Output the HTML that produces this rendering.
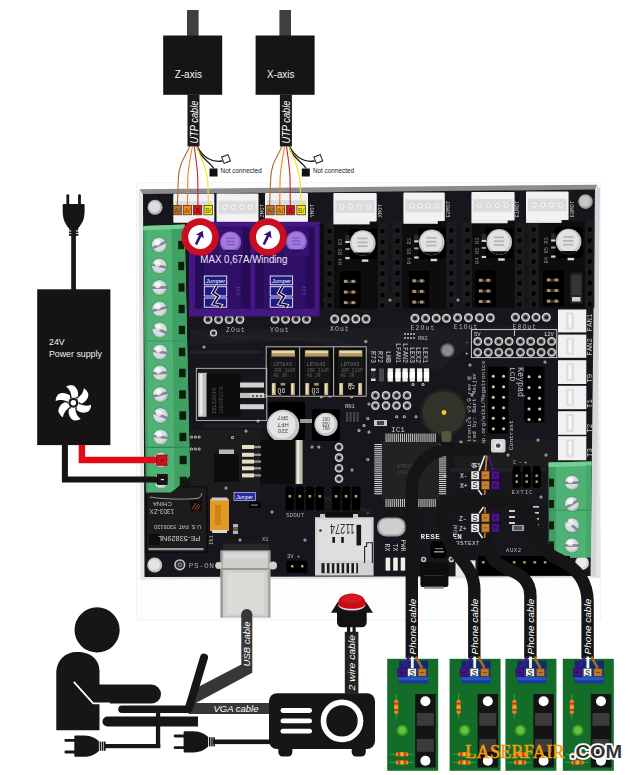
<!DOCTYPE html>
<html><head><meta charset="utf-8"><title>Wiring diagram</title>
<style>
html,body{margin:0;padding:0;background:#fff;}
svg{display:block}
text{font-family:"Liberation Sans",sans-serif}
.m{font-family:"Liberation Mono",monospace}
.sf{font-family:"Liberation Serif",serif}
</style></head><body>
<svg width="637" height="775" viewBox="0 0 637 775">
<defs>
<filter id="soft" x="-2%" y="-2%" width="104%" height="104%"><feGaussianBlur stdDeviation="0.45"/></filter>
<filter id="b1" x="-20%" y="-20%" width="140%" height="140%"><feGaussianBlur stdDeviation="0.6"/></filter>
<filter id="b2" x="-20%" y="-20%" width="140%" height="140%"><feGaussianBlur stdDeviation="1.2"/></filter>
<filter id="b3" x="-30%" y="-30%" width="160%" height="160%"><feGaussianBlur stdDeviation="2.2"/></filter>
</defs>
<g filter="url(#soft)">
<rect x="136.5" y="182.5" width="464.0" height="437.5" fill="#fdfdfd" stroke="#f3f3f3" stroke-width="1"/>
<polygon points="138.5,190 598,185.5 600.5,578 140.5,579.5" fill="#e6e6e8" filter="url(#b1)"/>
<polygon points="139.5,189.2 597,184.7 595,190 143,194.5" fill="#8c8c8f"/>
<polygon points="595,189.5 600,187 596,577 590.5,576" fill="#d4d4da"/>
<polygon points="143,194 595,189.5 590.5,576 144.5,577" fill="#17171a"/>
<polygon points="190,330 560,326 560,345 470,345 440,370 300,340 190,345" fill="#1e1e21"/>
<polygon points="190,430 260,430 260,500 190,500" fill="#1b1b1e"/>
<polygon points="455,440 560,440 560,470 455,470" fill="#1c1c1f"/>
<circle cx="365.8" cy="341.4" r="1.5" fill="#cfcfcf" />
<circle cx="365.8" cy="341.4" r="0.7" fill="#2a2a2a" />
<circle cx="321.4" cy="396.7" r="1.5" fill="#cfcfcf" />
<circle cx="321.4" cy="396.7" r="0.7" fill="#2a2a2a" />
<circle cx="351.5" cy="396.7" r="1.5" fill="#cfcfcf" />
<circle cx="351.5" cy="396.7" r="0.7" fill="#2a2a2a" />
<circle cx="369.0" cy="404.0" r="1.5" fill="#cfcfcf" />
<circle cx="369.0" cy="404.0" r="0.7" fill="#2a2a2a" />
<circle cx="367.8" cy="418.5" r="1.5" fill="#cfcfcf" />
<circle cx="367.8" cy="418.5" r="0.7" fill="#2a2a2a" />
<circle cx="364.0" cy="425.6" r="1.5" fill="#cfcfcf" />
<circle cx="364.0" cy="425.6" r="0.7" fill="#2a2a2a" />
<circle cx="369.0" cy="431.9" r="1.5" fill="#cfcfcf" />
<circle cx="369.0" cy="431.9" r="0.7" fill="#2a2a2a" />
<circle cx="396.7" cy="416.8" r="1.5" fill="#cfcfcf" />
<circle cx="396.7" cy="416.8" r="0.7" fill="#2a2a2a" />
<circle cx="404.3" cy="416.8" r="1.5" fill="#cfcfcf" />
<circle cx="404.3" cy="416.8" r="0.7" fill="#2a2a2a" />
<circle cx="416.0" cy="416.8" r="1.5" fill="#cfcfcf" />
<circle cx="416.0" cy="416.8" r="0.7" fill="#2a2a2a" />
<circle cx="423.0" cy="384.6" r="1.5" fill="#cfcfcf" />
<circle cx="423.0" cy="384.6" r="0.7" fill="#2a2a2a" />
<circle cx="413.0" cy="384.6" r="1.5" fill="#cfcfcf" />
<circle cx="413.0" cy="384.6" r="0.7" fill="#2a2a2a" />
<circle cx="318.8" cy="447.0" r="1.5" fill="#cfcfcf" />
<circle cx="318.8" cy="447.0" r="0.7" fill="#2a2a2a" />
<circle cx="367.8" cy="459.5" r="1.5" fill="#cfcfcf" />
<circle cx="367.8" cy="459.5" r="0.7" fill="#2a2a2a" />
<circle cx="359.0" cy="430.6" r="1.5" fill="#cfcfcf" />
<circle cx="359.0" cy="430.6" r="0.7" fill="#2a2a2a" />
<circle cx="191.5" cy="437.0" r="1.5" fill="#cfcfcf" />
<circle cx="191.5" cy="437.0" r="0.7" fill="#2a2a2a" />
<circle cx="195.3" cy="437.0" r="1.5" fill="#cfcfcf" />
<circle cx="195.3" cy="437.0" r="0.7" fill="#2a2a2a" />
<circle cx="199.1" cy="437.0" r="1.5" fill="#cfcfcf" />
<circle cx="199.1" cy="437.0" r="0.7" fill="#2a2a2a" />
<circle cx="191.5" cy="449.0" r="1.5" fill="#cfcfcf" />
<circle cx="191.5" cy="449.0" r="0.7" fill="#2a2a2a" />
<circle cx="195.3" cy="449.0" r="1.5" fill="#cfcfcf" />
<circle cx="195.3" cy="449.0" r="0.7" fill="#2a2a2a" />
<circle cx="199.1" cy="449.0" r="1.5" fill="#cfcfcf" />
<circle cx="199.1" cy="449.0" r="0.7" fill="#2a2a2a" />
<circle cx="232.5" cy="437.5" r="1.5" fill="#cfcfcf" />
<circle cx="232.5" cy="437.5" r="0.7" fill="#2a2a2a" />
<circle cx="246.0" cy="431.0" r="1.5" fill="#cfcfcf" />
<circle cx="246.0" cy="431.0" r="0.7" fill="#2a2a2a" />
<circle cx="258.0" cy="421.0" r="1.5" fill="#cfcfcf" />
<circle cx="258.0" cy="421.0" r="0.7" fill="#2a2a2a" />
<circle cx="330.0" cy="396.0" r="1.5" fill="#cfcfcf" />
<circle cx="330.0" cy="396.0" r="0.7" fill="#2a2a2a" />
<circle cx="204.0" cy="347.0" r="1.5" fill="#cfcfcf" />
<circle cx="204.0" cy="347.0" r="0.7" fill="#2a2a2a" />
<circle cx="436.0" cy="460.0" r="1.5" fill="#cfcfcf" />
<circle cx="436.0" cy="460.0" r="0.7" fill="#2a2a2a" />
<circle cx="445.0" cy="476.0" r="1.5" fill="#cfcfcf" />
<circle cx="445.0" cy="476.0" r="0.7" fill="#2a2a2a" />
<circle cx="452.0" cy="500.0" r="1.5" fill="#cfcfcf" />
<circle cx="452.0" cy="500.0" r="0.7" fill="#2a2a2a" />
<circle cx="461.0" cy="442.0" r="1.5" fill="#cfcfcf" />
<circle cx="461.0" cy="442.0" r="0.7" fill="#2a2a2a" />
<circle cx="505.0" cy="503.0" r="1.5" fill="#cfcfcf" />
<circle cx="505.0" cy="503.0" r="0.7" fill="#2a2a2a" />
<circle cx="541.0" cy="497.0" r="1.5" fill="#cfcfcf" />
<circle cx="541.0" cy="497.0" r="0.7" fill="#2a2a2a" />
<circle cx="563.0" cy="470.0" r="1.5" fill="#cfcfcf" />
<circle cx="563.0" cy="470.0" r="0.7" fill="#2a2a2a" />
<circle cx="545.0" cy="362.0" r="1.5" fill="#cfcfcf" />
<circle cx="545.0" cy="362.0" r="0.7" fill="#2a2a2a" />
<circle cx="300.0" cy="430.0" r="1.5" fill="#cfcfcf" />
<circle cx="300.0" cy="430.0" r="0.7" fill="#2a2a2a" />
<circle cx="312.0" cy="447.0" r="1.5" fill="#cfcfcf" />
<circle cx="312.0" cy="447.0" r="0.7" fill="#2a2a2a" />
<circle cx="352.0" cy="470.0" r="1.5" fill="#cfcfcf" />
<circle cx="352.0" cy="470.0" r="0.7" fill="#2a2a2a" />
<circle cx="368.0" cy="512.0" r="1.5" fill="#cfcfcf" />
<circle cx="368.0" cy="512.0" r="0.7" fill="#2a2a2a" />
<circle cx="305.0" cy="540.0" r="1.5" fill="#cfcfcf" />
<circle cx="305.0" cy="540.0" r="0.7" fill="#2a2a2a" />
<circle cx="272.0" cy="512.0" r="1.5" fill="#cfcfcf" />
<circle cx="272.0" cy="512.0" r="0.7" fill="#2a2a2a" />
<circle cx="240.0" cy="540.0" r="1.5" fill="#cfcfcf" />
<circle cx="240.0" cy="540.0" r="0.7" fill="#2a2a2a" />
<circle cx="262.0" cy="470.0" r="1.5" fill="#cfcfcf" />
<circle cx="262.0" cy="470.0" r="0.7" fill="#2a2a2a" />
<circle cx="226.0" cy="488.0" r="1.5" fill="#cfcfcf" />
<circle cx="226.0" cy="488.0" r="0.7" fill="#2a2a2a" />
<circle cx="560.0" cy="300.0" r="1.5" fill="#cfcfcf" />
<circle cx="560.0" cy="300.0" r="0.7" fill="#2a2a2a" />
<circle cx="458.0" cy="300.0" r="1.5" fill="#cfcfcf" />
<circle cx="458.0" cy="300.0" r="0.7" fill="#2a2a2a" />
<circle cx="390.0" cy="300.0" r="1.5" fill="#cfcfcf" />
<circle cx="390.0" cy="300.0" r="0.7" fill="#2a2a2a" />
<circle cx="322.0" cy="300.0" r="1.5" fill="#cfcfcf" />
<circle cx="322.0" cy="300.0" r="0.7" fill="#2a2a2a" />
<circle cx="546.0" cy="455.0" r="1.5" fill="#cfcfcf" />
<circle cx="546.0" cy="455.0" r="0.7" fill="#2a2a2a" />
<circle cx="508.0" cy="455.0" r="1.5" fill="#cfcfcf" />
<circle cx="508.0" cy="455.0" r="0.7" fill="#2a2a2a" />
<circle cx="538.0" cy="440.0" r="1.5" fill="#cfcfcf" />
<circle cx="538.0" cy="440.0" r="0.7" fill="#2a2a2a" />
<circle cx="470.0" cy="365.0" r="1.5" fill="#cfcfcf" />
<circle cx="470.0" cy="365.0" r="0.7" fill="#2a2a2a" />
<circle cx="472.0" cy="395.0" r="1.5" fill="#cfcfcf" />
<circle cx="472.0" cy="395.0" r="0.7" fill="#2a2a2a" />
<circle cx="466.0" cy="420.0" r="1.5" fill="#cfcfcf" />
<circle cx="466.0" cy="420.0" r="0.7" fill="#2a2a2a" />
<path d="M205 336 L330 340 L372 352 M190 352 L262 352 M205 426 L262 426 M300 490 L370 512 M450 470 L545 470 M455 505 L470 505" stroke="#242428" stroke-width="3.2" fill="none"/>
<circle cx="155.0" cy="207.3" r="7.5" fill="#b5b5b5" />
<circle cx="154.5" cy="206.8" r="5.6" fill="#dcdcdc" />
<circle cx="585.5" cy="201.6" r="7.3" fill="#a2a2a2" />
<circle cx="585.0" cy="201.1" r="5.4" fill="#c6c6c6" />
<circle cx="154.7" cy="565.0" r="7.5" fill="#c6c6c6" />
<circle cx="154.2" cy="564.5" r="5.6" fill="#e4e4e4" />
<circle cx="582.0" cy="563.0" r="7.0" fill="#d8d8d8" />
<circle cx="581.5" cy="562.5" r="5.0" fill="#ececec" />
<circle cx="447.5" cy="350.3" r="7.0" fill="#5c5c5c" />
<circle cx="447.5" cy="350.3" r="5.4" fill="#8c8c8c" />
<rect x="173.3" y="193.8" width="41.0" height="29.0" fill="#f2f2f2" rx="1"/>
<rect x="175.3" y="201.1" width="37.0" height="13.1" fill="#dcdcdc" />
<circle cx="181.4" cy="207.4" r="2.6" fill="#efefef" />
<circle cx="181.4" cy="207.4" r="1.2" fill="#cfcfcf" />
<circle cx="189.7" cy="207.4" r="2.6" fill="#efefef" />
<circle cx="189.7" cy="207.4" r="1.2" fill="#cfcfcf" />
<circle cx="197.9" cy="207.4" r="2.6" fill="#efefef" />
<circle cx="197.9" cy="207.4" r="1.2" fill="#cfcfcf" />
<circle cx="206.2" cy="207.4" r="2.6" fill="#efefef" />
<circle cx="206.2" cy="207.4" r="1.2" fill="#cfcfcf" />
<rect x="216.5" y="193.5" width="42.0" height="29.0" fill="#f2f2f2" rx="1"/>
<rect x="218.5" y="200.8" width="38.0" height="13.1" fill="#dcdcdc" />
<circle cx="224.8" cy="207.1" r="2.6" fill="#efefef" />
<circle cx="224.8" cy="207.1" r="1.2" fill="#cfcfcf" />
<circle cx="233.2" cy="207.1" r="2.6" fill="#efefef" />
<circle cx="233.2" cy="207.1" r="1.2" fill="#cfcfcf" />
<circle cx="241.8" cy="207.1" r="2.6" fill="#efefef" />
<circle cx="241.8" cy="207.1" r="1.2" fill="#cfcfcf" />
<circle cx="250.2" cy="207.1" r="2.6" fill="#efefef" />
<circle cx="250.2" cy="207.1" r="1.2" fill="#cfcfcf" />
<rect x="265.0" y="193.0" width="43.0" height="29.0" fill="#f2f2f2" rx="1"/>
<rect x="267.0" y="200.2" width="39.0" height="13.1" fill="#dcdcdc" />
<circle cx="273.4" cy="206.6" r="2.6" fill="#efefef" />
<circle cx="273.4" cy="206.6" r="1.2" fill="#cfcfcf" />
<circle cx="282.1" cy="206.6" r="2.6" fill="#efefef" />
<circle cx="282.1" cy="206.6" r="1.2" fill="#cfcfcf" />
<circle cx="290.9" cy="206.6" r="2.6" fill="#efefef" />
<circle cx="290.9" cy="206.6" r="1.2" fill="#cfcfcf" />
<circle cx="299.6" cy="206.6" r="2.6" fill="#efefef" />
<circle cx="299.6" cy="206.6" r="1.2" fill="#cfcfcf" />
<text transform="translate(264.4 217.5) rotate(-90)" font-size="5.6" fill="#c8c8c8" class="m">ZMOT</text>
<text transform="translate(313.8 217.5) rotate(-90)" font-size="5.6" fill="#c8c8c8" class="m">YMOT</text>
<text transform="translate(381.6 217.5) rotate(-90)" font-size="5.6" fill="#c8c8c8" class="m">XMOT</text>
<text transform="translate(449.6 217.5) rotate(-90)" font-size="5.6" fill="#c8c8c8" class="m">E2MOT</text>
<text transform="translate(519.4 217.5) rotate(-90)" font-size="5.6" fill="#c8c8c8" class="m">E1MOT</text>
<text transform="translate(573.6 217.5) rotate(-90)" font-size="5.6" fill="#c8c8c8" class="m">E0MOT</text>
<rect x="189.5" y="224.0" width="9.0" height="84.0" fill="#070707" />
<rect x="247.5" y="224.0" width="9.0" height="84.0" fill="#070707" />
<rect x="257.0" y="224.0" width="9.0" height="84.0" fill="#070707" />
<rect x="314.5" y="224.0" width="9.0" height="84.0" fill="#070707" />
<rect x="333.7" y="223.0" width="44.2" height="86.0" fill="#0c0c0e" />
<rect x="324.7" y="222.5" width="9.4" height="86.5" fill="#1c1c1f" />
<rect x="327.3" y="229.0" width="4.2" height="4.2" fill="#050506" rx="0.8"/>
<rect x="327.3" y="239.7" width="4.2" height="4.2" fill="#050506" rx="0.8"/>
<rect x="327.3" y="250.3" width="4.2" height="4.2" fill="#050506" rx="0.8"/>
<rect x="327.3" y="260.9" width="4.2" height="4.2" fill="#050506" rx="0.8"/>
<rect x="327.3" y="271.6" width="4.2" height="4.2" fill="#050506" rx="0.8"/>
<rect x="327.3" y="282.2" width="4.2" height="4.2" fill="#050506" rx="0.8"/>
<rect x="327.3" y="292.9" width="4.2" height="4.2" fill="#050506" rx="0.8"/>
<rect x="327.3" y="303.6" width="4.2" height="4.2" fill="#050506" rx="0.8"/>
<rect x="377.9" y="222.5" width="9.4" height="86.5" fill="#1c1c1f" />
<rect x="380.5" y="229.0" width="4.2" height="4.2" fill="#050506" rx="0.8"/>
<rect x="380.5" y="239.7" width="4.2" height="4.2" fill="#050506" rx="0.8"/>
<rect x="380.5" y="250.3" width="4.2" height="4.2" fill="#050506" rx="0.8"/>
<rect x="380.5" y="260.9" width="4.2" height="4.2" fill="#050506" rx="0.8"/>
<rect x="380.5" y="271.6" width="4.2" height="4.2" fill="#050506" rx="0.8"/>
<rect x="380.5" y="282.2" width="4.2" height="4.2" fill="#050506" rx="0.8"/>
<rect x="380.5" y="292.9" width="4.2" height="4.2" fill="#050506" rx="0.8"/>
<rect x="380.5" y="303.6" width="4.2" height="4.2" fill="#050506" rx="0.8"/>
<rect x="333.4" y="193.0" width="43.3" height="28.5" fill="#f2f2f2" rx="1"/>
<rect x="335.4" y="200.1" width="39.3" height="12.8" fill="#dcdcdc" />
<circle cx="341.8" cy="206.4" r="2.6" fill="#efefef" />
<circle cx="341.8" cy="206.4" r="1.2" fill="#cfcfcf" />
<circle cx="350.6" cy="206.4" r="2.6" fill="#efefef" />
<circle cx="350.6" cy="206.4" r="1.2" fill="#cfcfcf" />
<circle cx="359.5" cy="206.4" r="2.6" fill="#efefef" />
<circle cx="359.5" cy="206.4" r="1.2" fill="#cfcfcf" />
<circle cx="368.3" cy="206.4" r="2.6" fill="#efefef" />
<circle cx="368.3" cy="206.4" r="1.2" fill="#cfcfcf" />
<rect x="333.4" y="221.0" width="36.3" height="3.4" fill="#ececec" />
<rect x="348.5" y="228.7" width="28.6" height="30.6" fill="#050505" rx="3"/>
<circle cx="362.8" cy="243.0" r="12.8" fill="#c4c4c4" />
<circle cx="362.4" cy="242.4" r="10.8" fill="#e2e2e2" />
<rect x="357.4" y="237.6" width="10.2" height="1.7" fill="#b4b4b8" />
<rect x="357.4" y="241.5" width="10.2" height="1.7" fill="#b4b4b8" />
<rect x="357.4" y="245.3" width="10.2" height="1.7" fill="#b4b4b8" />
<path d="M354.19 252.47 A12.80 12.80 0 0 0 371.41 252.47 Z" fill="#0a0a0a"/>
<rect x="340.0" y="271.0" width="21.0" height="37.0" fill="#050505" rx="3"/>
<rect x="343.5" y="280.5" width="13.0" height="2.4" fill="#3a3028" />
<rect x="344.0" y="279.9" width="3.4" height="3.0" fill="#b09070" />
<rect x="351.5" y="279.9" width="3.4" height="3.0" fill="#b09070" />
<rect x="343.5" y="291.1" width="13.0" height="2.4" fill="#3a3028" />
<rect x="344.0" y="290.5" width="3.4" height="3.0" fill="#b09070" />
<rect x="351.5" y="290.5" width="3.4" height="3.0" fill="#b09070" />
<rect x="343.5" y="301.7" width="13.0" height="2.4" fill="#3a3028" />
<rect x="344.0" y="301.1" width="3.4" height="3.0" fill="#b09070" />
<rect x="351.5" y="301.1" width="3.4" height="3.0" fill="#b09070" />
<rect x="345.3" y="235.0" width="4.4" height="7.0" fill="#2c2c2c" />
<rect x="345.3" y="241.0" width="4.4" height="2.0" fill="#d8d8d8" />
<rect x="345.3" y="248.0" width="4.4" height="2.0" fill="#9a9a9a" />
<rect x="345.3" y="257.0" width="4.4" height="2.2" fill="#cfcfcf" />
<rect x="361.8" y="259.4" width="6.5" height="2.4" fill="#d8d8d8" />
<text transform="translate(342.3 265.0) rotate(-90)" font-size="5.5" fill="#8a8a8a" class="m">R4 R5 R3</text>
<rect x="401.9" y="222.4" width="44.7" height="86.0" fill="#0c0c0e" />
<rect x="392.9" y="221.9" width="9.4" height="86.5" fill="#1c1c1f" />
<rect x="395.5" y="228.4" width="4.2" height="4.2" fill="#050506" rx="0.8"/>
<rect x="395.5" y="239.1" width="4.2" height="4.2" fill="#050506" rx="0.8"/>
<rect x="395.5" y="249.7" width="4.2" height="4.2" fill="#050506" rx="0.8"/>
<rect x="395.5" y="260.4" width="4.2" height="4.2" fill="#050506" rx="0.8"/>
<rect x="395.5" y="271.0" width="4.2" height="4.2" fill="#050506" rx="0.8"/>
<rect x="395.5" y="281.6" width="4.2" height="4.2" fill="#050506" rx="0.8"/>
<rect x="395.5" y="292.3" width="4.2" height="4.2" fill="#050506" rx="0.8"/>
<rect x="395.5" y="302.9" width="4.2" height="4.2" fill="#050506" rx="0.8"/>
<rect x="446.6" y="221.9" width="9.4" height="86.5" fill="#1c1c1f" />
<rect x="449.2" y="228.4" width="4.2" height="4.2" fill="#050506" rx="0.8"/>
<rect x="449.2" y="239.1" width="4.2" height="4.2" fill="#050506" rx="0.8"/>
<rect x="449.2" y="249.7" width="4.2" height="4.2" fill="#050506" rx="0.8"/>
<rect x="449.2" y="260.4" width="4.2" height="4.2" fill="#050506" rx="0.8"/>
<rect x="449.2" y="271.0" width="4.2" height="4.2" fill="#050506" rx="0.8"/>
<rect x="449.2" y="281.6" width="4.2" height="4.2" fill="#050506" rx="0.8"/>
<rect x="449.2" y="292.3" width="4.2" height="4.2" fill="#050506" rx="0.8"/>
<rect x="449.2" y="302.9" width="4.2" height="4.2" fill="#050506" rx="0.8"/>
<rect x="403.4" y="192.4" width="41.4" height="28.5" fill="#f2f2f2" rx="1"/>
<rect x="405.4" y="199.5" width="37.4" height="12.8" fill="#dcdcdc" />
<circle cx="411.6" cy="205.8" r="2.6" fill="#efefef" />
<circle cx="411.6" cy="205.8" r="1.2" fill="#cfcfcf" />
<circle cx="419.9" cy="205.8" r="2.6" fill="#efefef" />
<circle cx="419.9" cy="205.8" r="1.2" fill="#cfcfcf" />
<circle cx="428.3" cy="205.8" r="2.6" fill="#efefef" />
<circle cx="428.3" cy="205.8" r="1.2" fill="#cfcfcf" />
<circle cx="436.6" cy="205.8" r="2.6" fill="#efefef" />
<circle cx="436.6" cy="205.8" r="1.2" fill="#cfcfcf" />
<rect x="403.4" y="220.4" width="34.4" height="3.4" fill="#ececec" />
<rect x="417.4" y="228.1" width="28.6" height="30.6" fill="#050505" rx="3"/>
<circle cx="431.7" cy="242.4" r="12.8" fill="#c4c4c4" />
<circle cx="431.3" cy="241.8" r="10.8" fill="#e2e2e2" />
<rect x="426.3" y="237.0" width="10.2" height="1.7" fill="#b4b4b8" />
<rect x="426.3" y="240.9" width="10.2" height="1.7" fill="#b4b4b8" />
<rect x="426.3" y="244.7" width="10.2" height="1.7" fill="#b4b4b8" />
<path d="M423.09 251.87 A12.80 12.80 0 0 0 440.31 251.87 Z" fill="#0a0a0a"/>
<rect x="408.5" y="270.4" width="21.0" height="37.0" fill="#050505" rx="3"/>
<rect x="412.0" y="279.9" width="13.0" height="2.4" fill="#3a3028" />
<rect x="412.5" y="279.3" width="3.4" height="3.0" fill="#b09070" />
<rect x="420.0" y="279.3" width="3.4" height="3.0" fill="#b09070" />
<rect x="412.0" y="290.5" width="13.0" height="2.4" fill="#3a3028" />
<rect x="412.5" y="289.9" width="3.4" height="3.0" fill="#b09070" />
<rect x="420.0" y="289.9" width="3.4" height="3.0" fill="#b09070" />
<rect x="412.0" y="301.1" width="13.0" height="2.4" fill="#3a3028" />
<rect x="412.5" y="300.5" width="3.4" height="3.0" fill="#b09070" />
<rect x="420.0" y="300.5" width="3.4" height="3.0" fill="#b09070" />
<rect x="414.2" y="234.4" width="4.4" height="7.0" fill="#2c2c2c" />
<rect x="414.2" y="240.4" width="4.4" height="2.0" fill="#d8d8d8" />
<rect x="414.2" y="247.4" width="4.4" height="2.0" fill="#9a9a9a" />
<rect x="414.2" y="256.4" width="4.4" height="2.2" fill="#cfcfcf" />
<rect x="430.7" y="258.8" width="6.5" height="2.4" fill="#d8d8d8" />
<text transform="translate(411.2 264.4) rotate(-90)" font-size="5.5" fill="#8a8a8a" class="m">R4 R5 R3</text>
<rect x="471.8" y="221.9" width="43.0" height="86.0" fill="#0c0c0e" />
<rect x="462.8" y="221.4" width="9.4" height="86.5" fill="#1c1c1f" />
<rect x="465.4" y="227.9" width="4.2" height="4.2" fill="#050506" rx="0.8"/>
<rect x="465.4" y="238.6" width="4.2" height="4.2" fill="#050506" rx="0.8"/>
<rect x="465.4" y="249.2" width="4.2" height="4.2" fill="#050506" rx="0.8"/>
<rect x="465.4" y="259.9" width="4.2" height="4.2" fill="#050506" rx="0.8"/>
<rect x="465.4" y="270.5" width="4.2" height="4.2" fill="#050506" rx="0.8"/>
<rect x="465.4" y="281.1" width="4.2" height="4.2" fill="#050506" rx="0.8"/>
<rect x="465.4" y="291.8" width="4.2" height="4.2" fill="#050506" rx="0.8"/>
<rect x="465.4" y="302.4" width="4.2" height="4.2" fill="#050506" rx="0.8"/>
<rect x="514.8" y="221.4" width="9.4" height="86.5" fill="#1c1c1f" />
<rect x="517.4" y="227.9" width="4.2" height="4.2" fill="#050506" rx="0.8"/>
<rect x="517.4" y="238.6" width="4.2" height="4.2" fill="#050506" rx="0.8"/>
<rect x="517.4" y="249.2" width="4.2" height="4.2" fill="#050506" rx="0.8"/>
<rect x="517.4" y="259.9" width="4.2" height="4.2" fill="#050506" rx="0.8"/>
<rect x="517.4" y="270.5" width="4.2" height="4.2" fill="#050506" rx="0.8"/>
<rect x="517.4" y="281.1" width="4.2" height="4.2" fill="#050506" rx="0.8"/>
<rect x="517.4" y="291.8" width="4.2" height="4.2" fill="#050506" rx="0.8"/>
<rect x="517.4" y="302.4" width="4.2" height="4.2" fill="#050506" rx="0.8"/>
<rect x="471.4" y="191.9" width="43.2" height="28.5" fill="#f2f2f2" rx="1"/>
<rect x="473.4" y="199.0" width="39.2" height="12.8" fill="#dcdcdc" />
<circle cx="479.8" cy="205.3" r="2.6" fill="#efefef" />
<circle cx="479.8" cy="205.3" r="1.2" fill="#cfcfcf" />
<circle cx="488.6" cy="205.3" r="2.6" fill="#efefef" />
<circle cx="488.6" cy="205.3" r="1.2" fill="#cfcfcf" />
<circle cx="497.4" cy="205.3" r="2.6" fill="#efefef" />
<circle cx="497.4" cy="205.3" r="1.2" fill="#cfcfcf" />
<circle cx="506.2" cy="205.3" r="2.6" fill="#efefef" />
<circle cx="506.2" cy="205.3" r="1.2" fill="#cfcfcf" />
<rect x="471.4" y="219.9" width="36.2" height="3.4" fill="#ececec" />
<rect x="484.9" y="227.6" width="28.6" height="30.6" fill="#050505" rx="3"/>
<circle cx="499.2" cy="241.9" r="12.8" fill="#c4c4c4" />
<circle cx="498.8" cy="241.3" r="10.8" fill="#e2e2e2" />
<rect x="493.8" y="236.5" width="10.2" height="1.7" fill="#b4b4b8" />
<rect x="493.8" y="240.4" width="10.2" height="1.7" fill="#b4b4b8" />
<rect x="493.8" y="244.2" width="10.2" height="1.7" fill="#b4b4b8" />
<path d="M490.59 251.37 A12.80 12.80 0 0 0 507.81 251.37 Z" fill="#0a0a0a"/>
<rect x="475.0" y="269.9" width="21.0" height="37.0" fill="#050505" rx="3"/>
<rect x="478.5" y="279.4" width="13.0" height="2.4" fill="#3a3028" />
<rect x="479.0" y="278.8" width="3.4" height="3.0" fill="#b09070" />
<rect x="486.5" y="278.8" width="3.4" height="3.0" fill="#b09070" />
<rect x="478.5" y="290.0" width="13.0" height="2.4" fill="#3a3028" />
<rect x="479.0" y="289.4" width="3.4" height="3.0" fill="#b09070" />
<rect x="486.5" y="289.4" width="3.4" height="3.0" fill="#b09070" />
<rect x="478.5" y="300.6" width="13.0" height="2.4" fill="#3a3028" />
<rect x="479.0" y="300.0" width="3.4" height="3.0" fill="#b09070" />
<rect x="486.5" y="300.0" width="3.4" height="3.0" fill="#b09070" />
<rect x="481.7" y="233.9" width="4.4" height="7.0" fill="#2c2c2c" />
<rect x="481.7" y="239.9" width="4.4" height="2.0" fill="#d8d8d8" />
<rect x="481.7" y="246.9" width="4.4" height="2.0" fill="#9a9a9a" />
<rect x="481.7" y="255.9" width="4.4" height="2.2" fill="#cfcfcf" />
<rect x="498.2" y="258.3" width="6.5" height="2.4" fill="#d8d8d8" />
<text transform="translate(478.7 263.9) rotate(-90)" font-size="5.5" fill="#8a8a8a" class="m">R4 R5 R3</text>
<rect x="538.0" y="221.5" width="47.0" height="86.0" fill="#0c0c0e" />
<rect x="529.0" y="221.0" width="9.4" height="86.5" fill="#1c1c1f" />
<rect x="531.6" y="227.5" width="4.2" height="4.2" fill="#050506" rx="0.8"/>
<rect x="531.6" y="238.2" width="4.2" height="4.2" fill="#050506" rx="0.8"/>
<rect x="531.6" y="248.8" width="4.2" height="4.2" fill="#050506" rx="0.8"/>
<rect x="531.6" y="259.4" width="4.2" height="4.2" fill="#050506" rx="0.8"/>
<rect x="531.6" y="270.1" width="4.2" height="4.2" fill="#050506" rx="0.8"/>
<rect x="531.6" y="280.8" width="4.2" height="4.2" fill="#050506" rx="0.8"/>
<rect x="531.6" y="291.4" width="4.2" height="4.2" fill="#050506" rx="0.8"/>
<rect x="531.6" y="302.1" width="4.2" height="4.2" fill="#050506" rx="0.8"/>
<rect x="585.0" y="221.0" width="9.4" height="86.5" fill="#1c1c1f" />
<rect x="587.6" y="227.5" width="4.2" height="4.2" fill="#050506" rx="0.8"/>
<rect x="587.6" y="238.2" width="4.2" height="4.2" fill="#050506" rx="0.8"/>
<rect x="587.6" y="248.8" width="4.2" height="4.2" fill="#050506" rx="0.8"/>
<rect x="587.6" y="259.4" width="4.2" height="4.2" fill="#050506" rx="0.8"/>
<rect x="587.6" y="270.1" width="4.2" height="4.2" fill="#050506" rx="0.8"/>
<rect x="587.6" y="280.8" width="4.2" height="4.2" fill="#050506" rx="0.8"/>
<rect x="587.6" y="291.4" width="4.2" height="4.2" fill="#050506" rx="0.8"/>
<rect x="587.6" y="302.1" width="4.2" height="4.2" fill="#050506" rx="0.8"/>
<rect x="526.0" y="191.5" width="42.6" height="28.5" fill="#f2f2f2" rx="1"/>
<rect x="528.0" y="198.6" width="38.6" height="12.8" fill="#dcdcdc" />
<circle cx="534.3" cy="204.9" r="2.6" fill="#efefef" />
<circle cx="534.3" cy="204.9" r="1.2" fill="#cfcfcf" />
<circle cx="543.0" cy="204.9" r="2.6" fill="#efefef" />
<circle cx="543.0" cy="204.9" r="1.2" fill="#cfcfcf" />
<circle cx="551.6" cy="204.9" r="2.6" fill="#efefef" />
<circle cx="551.6" cy="204.9" r="1.2" fill="#cfcfcf" />
<circle cx="560.3" cy="204.9" r="2.6" fill="#efefef" />
<circle cx="560.3" cy="204.9" r="1.2" fill="#cfcfcf" />
<rect x="526.0" y="219.5" width="35.6" height="3.4" fill="#ececec" />
<rect x="554.3" y="227.2" width="28.6" height="30.6" fill="#050505" rx="3"/>
<circle cx="568.6" cy="241.5" r="12.8" fill="#c4c4c4" />
<circle cx="568.2" cy="240.9" r="10.8" fill="#e2e2e2" />
<rect x="563.2" y="236.1" width="10.2" height="1.7" fill="#b4b4b8" />
<rect x="563.2" y="240.0" width="10.2" height="1.7" fill="#b4b4b8" />
<rect x="563.2" y="243.8" width="10.2" height="1.7" fill="#b4b4b8" />
<path d="M559.99 250.97 A12.80 12.80 0 0 0 577.21 250.97 Z" fill="#0a0a0a"/>
<rect x="543.0" y="269.5" width="21.0" height="37.0" fill="#050505" rx="3"/>
<rect x="546.5" y="279.0" width="13.0" height="2.4" fill="#3a3028" />
<rect x="547.0" y="278.4" width="3.4" height="3.0" fill="#b09070" />
<rect x="554.5" y="278.4" width="3.4" height="3.0" fill="#b09070" />
<rect x="546.5" y="289.6" width="13.0" height="2.4" fill="#3a3028" />
<rect x="547.0" y="289.0" width="3.4" height="3.0" fill="#b09070" />
<rect x="554.5" y="289.0" width="3.4" height="3.0" fill="#b09070" />
<rect x="546.5" y="300.2" width="13.0" height="2.4" fill="#3a3028" />
<rect x="547.0" y="299.6" width="3.4" height="3.0" fill="#b09070" />
<rect x="554.5" y="299.6" width="3.4" height="3.0" fill="#b09070" />
<rect x="551.1" y="233.5" width="4.4" height="7.0" fill="#2c2c2c" />
<rect x="551.1" y="239.5" width="4.4" height="2.0" fill="#d8d8d8" />
<rect x="551.1" y="246.5" width="4.4" height="2.0" fill="#9a9a9a" />
<rect x="551.1" y="255.5" width="4.4" height="2.2" fill="#cfcfcf" />
<rect x="567.6" y="257.9" width="6.5" height="2.4" fill="#d8d8d8" />
<text transform="translate(548.1 263.5) rotate(-90)" font-size="5.5" fill="#8a8a8a" class="m">R4 R5 R3</text>
<rect x="570.0" y="272.6" width="12.5" height="31.0" fill="#202022" rx="1.5"/>
<rect x="571.5" y="275.0" width="9.5" height="20.0" fill="#343436" />
<rect x="572.0" y="297.0" width="8.5" height="4.5" fill="#cfcfcf" />
<circle cx="208.0" cy="319.5" r="4.5" fill="#d9d9d9" />
<circle cx="208.0" cy="319.5" r="3.2" fill="#8a8a8a" />
<circle cx="208.0" cy="319.5" r="2.0" fill="#1a1a1a" />
<circle cx="218.6" cy="319.5" r="4.5" fill="#d9d9d9" />
<circle cx="218.6" cy="319.5" r="3.2" fill="#8a8a8a" />
<circle cx="218.6" cy="319.5" r="2.0" fill="#1a1a1a" />
<circle cx="229.2" cy="319.5" r="4.5" fill="#d9d9d9" />
<circle cx="229.2" cy="319.5" r="3.2" fill="#8a8a8a" />
<circle cx="229.2" cy="319.5" r="2.0" fill="#1a1a1a" />
<circle cx="239.8" cy="319.5" r="4.5" fill="#d9d9d9" />
<circle cx="239.8" cy="319.5" r="3.2" fill="#8a8a8a" />
<circle cx="239.8" cy="319.5" r="2.0" fill="#1a1a1a" />
<circle cx="275.0" cy="319.3" r="4.5" fill="#d9d9d9" />
<circle cx="275.0" cy="319.3" r="3.2" fill="#8a8a8a" />
<circle cx="275.0" cy="319.3" r="2.0" fill="#1a1a1a" />
<circle cx="285.5" cy="319.3" r="4.5" fill="#d9d9d9" />
<circle cx="285.5" cy="319.3" r="3.2" fill="#8a8a8a" />
<circle cx="285.5" cy="319.3" r="2.0" fill="#1a1a1a" />
<circle cx="296.0" cy="319.3" r="4.5" fill="#d9d9d9" />
<circle cx="296.0" cy="319.3" r="3.2" fill="#8a8a8a" />
<circle cx="296.0" cy="319.3" r="2.0" fill="#1a1a1a" />
<circle cx="306.5" cy="319.3" r="4.5" fill="#d9d9d9" />
<circle cx="306.5" cy="319.3" r="3.2" fill="#8a8a8a" />
<circle cx="306.5" cy="319.3" r="2.0" fill="#1a1a1a" />
<circle cx="334.7" cy="319.0" r="4.5" fill="#d9d9d9" />
<circle cx="334.7" cy="319.0" r="3.2" fill="#8a8a8a" />
<circle cx="334.7" cy="319.0" r="2.0" fill="#1a1a1a" />
<circle cx="345.2" cy="319.0" r="4.5" fill="#d9d9d9" />
<circle cx="345.2" cy="319.0" r="3.2" fill="#8a8a8a" />
<circle cx="345.2" cy="319.0" r="2.0" fill="#1a1a1a" />
<circle cx="355.8" cy="319.0" r="4.5" fill="#d9d9d9" />
<circle cx="355.8" cy="319.0" r="3.2" fill="#8a8a8a" />
<circle cx="355.8" cy="319.0" r="2.0" fill="#1a1a1a" />
<circle cx="366.0" cy="319.0" r="4.5" fill="#d9d9d9" />
<circle cx="366.0" cy="319.0" r="3.2" fill="#8a8a8a" />
<circle cx="366.0" cy="319.0" r="2.0" fill="#1a1a1a" />
<circle cx="415.0" cy="318.3" r="4.5" fill="#d9d9d9" />
<circle cx="415.0" cy="318.3" r="3.2" fill="#8a8a8a" />
<circle cx="415.0" cy="318.3" r="2.0" fill="#1a1a1a" />
<circle cx="425.6" cy="318.3" r="4.5" fill="#d9d9d9" />
<circle cx="425.6" cy="318.3" r="3.2" fill="#8a8a8a" />
<circle cx="425.6" cy="318.3" r="2.0" fill="#1a1a1a" />
<circle cx="436.2" cy="318.3" r="4.5" fill="#d9d9d9" />
<circle cx="436.2" cy="318.3" r="3.2" fill="#8a8a8a" />
<circle cx="436.2" cy="318.3" r="2.0" fill="#1a1a1a" />
<circle cx="446.4" cy="318.3" r="4.5" fill="#d9d9d9" />
<circle cx="446.4" cy="318.3" r="3.2" fill="#8a8a8a" />
<circle cx="446.4" cy="318.3" r="2.0" fill="#1a1a1a" />
<circle cx="457.6" cy="317.7" r="4.5" fill="#d9d9d9" />
<circle cx="457.6" cy="317.7" r="3.2" fill="#8a8a8a" />
<circle cx="457.6" cy="317.7" r="2.0" fill="#1a1a1a" />
<circle cx="468.5" cy="317.7" r="4.5" fill="#d9d9d9" />
<circle cx="468.5" cy="317.7" r="3.2" fill="#8a8a8a" />
<circle cx="468.5" cy="317.7" r="2.0" fill="#1a1a1a" />
<circle cx="479.4" cy="317.7" r="4.5" fill="#d9d9d9" />
<circle cx="479.4" cy="317.7" r="3.2" fill="#8a8a8a" />
<circle cx="479.4" cy="317.7" r="2.0" fill="#1a1a1a" />
<circle cx="490.3" cy="317.7" r="4.5" fill="#d9d9d9" />
<circle cx="490.3" cy="317.7" r="3.2" fill="#8a8a8a" />
<circle cx="490.3" cy="317.7" r="2.0" fill="#1a1a1a" />
<circle cx="515.4" cy="317.3" r="4.5" fill="#d9d9d9" />
<circle cx="515.4" cy="317.3" r="3.2" fill="#8a8a8a" />
<circle cx="515.4" cy="317.3" r="2.0" fill="#1a1a1a" />
<circle cx="525.6" cy="317.3" r="4.5" fill="#d9d9d9" />
<circle cx="525.6" cy="317.3" r="3.2" fill="#8a8a8a" />
<circle cx="525.6" cy="317.3" r="2.0" fill="#1a1a1a" />
<circle cx="536.0" cy="317.3" r="4.5" fill="#d9d9d9" />
<circle cx="536.0" cy="317.3" r="3.2" fill="#8a8a8a" />
<circle cx="536.0" cy="317.3" r="2.0" fill="#1a1a1a" />
<circle cx="546.3" cy="317.3" r="4.5" fill="#d9d9d9" />
<circle cx="546.3" cy="317.3" r="3.2" fill="#8a8a8a" />
<circle cx="546.3" cy="317.3" r="2.0" fill="#1a1a1a" />
<circle cx="213.5" cy="333.0" r="3.6" fill="#d9d9d9" />
<circle cx="213.5" cy="333.0" r="2.6" fill="#8a8a8a" />
<circle cx="213.5" cy="333.0" r="1.6" fill="#1a1a1a" />
<text x="226" y="331.5" font-size="6.5" fill="#b4b4b4" class="m" letter-spacing="1.05">ZOut</text>
<text x="270" y="331.5" font-size="6.5" fill="#b4b4b4" class="m" letter-spacing="1.05">YOut</text>
<text x="330" y="331" font-size="6.5" fill="#b4b4b4" class="m" letter-spacing="1.05">XOut</text>
<text x="410.6" y="329.8" font-size="6.5" fill="#b4b4b4" class="m" letter-spacing="1.05">E2Out</text>
<text x="453.8" y="329.4" font-size="6.5" fill="#b4b4b4" class="m" letter-spacing="1.05">E1Out</text>
<text x="512.5" y="329" font-size="6.5" fill="#b4b4b4" class="m" letter-spacing="1.05">E0Out</text>
<rect x="266.2" y="346.8" width="100" height="49.4" fill="#0e0e10" stroke="#c9c9c9" stroke-width="0.9"/>
<rect x="270.5" y="355.5" width="25.6" height="27.8" fill="#161618" />
<rect x="271.4" y="350.2" width="23.6" height="6.4" fill="#b39a62" />
<rect x="272.2" y="350.8" width="22.0" height="2.4" fill="#e4d8ae" />
<rect x="271.8" y="383.0" width="3.9" height="12.0" fill="#c9b98a" />
<rect x="290.8" y="383.0" width="3.9" height="12.0" fill="#c9b98a" />
<rect x="272.6" y="384.0" width="1.4" height="9.0" fill="#efe6c8" />
<rect x="291.6" y="384.0" width="1.4" height="9.0" fill="#efe6c8" />
<rect x="280.7" y="383.0" width="4.5" height="2.6" fill="#a89868" />
<text x="273.2" y="366" font-size="5.2" fill="#6e6e6e" class="m">LR7843</text>
<text x="273.2" y="371.5" font-size="4.6" fill="#5e5e5e" class="m">JRR 328P</text>
<text x="273.2" y="377" font-size="4.6" fill="#5e5e5e" class="m">AE   JR</text>
<rect x="299.2" y="347.0" width="0.9" height="49.0" fill="#c9c9c9" />
<rect x="304.0" y="355.5" width="25.6" height="27.8" fill="#161618" />
<rect x="304.9" y="350.2" width="23.6" height="6.4" fill="#b39a62" />
<rect x="305.7" y="350.8" width="22.0" height="2.4" fill="#e4d8ae" />
<rect x="305.3" y="383.0" width="3.9" height="12.0" fill="#c9b98a" />
<rect x="324.3" y="383.0" width="3.9" height="12.0" fill="#c9b98a" />
<rect x="306.1" y="384.0" width="1.4" height="9.0" fill="#efe6c8" />
<rect x="325.1" y="384.0" width="1.4" height="9.0" fill="#efe6c8" />
<rect x="314.2" y="383.0" width="4.5" height="2.6" fill="#a89868" />
<text x="306.7" y="366" font-size="5.2" fill="#6e6e6e" class="m">LR7843</text>
<text x="306.7" y="371.5" font-size="4.6" fill="#5e5e5e" class="m">JRR 328P</text>
<text x="306.7" y="377" font-size="4.6" fill="#5e5e5e" class="m">AE   JR</text>
<rect x="333.2" y="347.0" width="0.9" height="49.0" fill="#c9c9c9" />
<rect x="337.9" y="355.5" width="25.6" height="27.8" fill="#161618" />
<rect x="338.8" y="350.2" width="23.6" height="6.4" fill="#b39a62" />
<rect x="339.6" y="350.8" width="22.0" height="2.4" fill="#e4d8ae" />
<rect x="339.2" y="383.0" width="3.9" height="12.0" fill="#c9b98a" />
<rect x="358.2" y="383.0" width="3.9" height="12.0" fill="#c9b98a" />
<rect x="340.0" y="384.0" width="1.4" height="9.0" fill="#efe6c8" />
<rect x="359.0" y="384.0" width="1.4" height="9.0" fill="#efe6c8" />
<rect x="348.1" y="383.0" width="4.5" height="2.6" fill="#a89868" />
<text x="340.6" y="366" font-size="5.2" fill="#6e6e6e" class="m">LR7843</text>
<text x="340.6" y="371.5" font-size="4.6" fill="#5e5e5e" class="m">JRR 328P</text>
<text x="340.6" y="377" font-size="4.6" fill="#5e5e5e" class="m">AE   JR</text>
<text x="277.5" y="392.5" font-size="6.5" fill="#ddd" class="m">Q6</text>
<text x="311.5" y="393" font-size="6.5" fill="#ddd" class="m">Q3</text>
<text x="348" y="389" font-size="6" fill="#ddd" class="m">Q2</text>
<rect x="196.3" y="368.3" width="70.5" height="52.2" fill="none" stroke="#cfcfcf" stroke-width="0.8"/>
<rect x="198.0" y="372.8" width="9.0" height="44.0" fill="#bfbfbf" />
<rect x="199.5" y="374.0" width="3.0" height="41.5" fill="#e9e9e9" />
<rect x="206.5" y="374.0" width="34.0" height="43.0" fill="#0c0c0d" />
<text transform="translate(216 414) rotate(-90)" font-size="5.4" fill="#5c5c5c" class="m">IRLS3034</text>
<text transform="translate(223 414) rotate(-90)" font-size="4.6" fill="#505050" class="m">2202VP33TD</text>
<rect x="240.0" y="382.5" width="24.0" height="5.0" fill="#d2d2d2" />
<rect x="240.0" y="392.9" width="24.0" height="5.0" fill="#d2d2d2" />
<rect x="240.0" y="404.2" width="24.0" height="5.0" fill="#d2d2d2" />
<rect x="240.0" y="393.0" width="10.0" height="5.0" fill="#bdbdbd" />
<circle cx="253.0" cy="396.0" r="1.7" fill="#d9d9d9" />
<circle cx="253.0" cy="396.0" r="1.2" fill="#8a8a8a" />
<circle cx="253.0" cy="396.0" r="0.8" fill="#1a1a1a" />
<circle cx="257.0" cy="396.0" r="1.7" fill="#d9d9d9" />
<circle cx="257.0" cy="396.0" r="1.2" fill="#8a8a8a" />
<circle cx="257.0" cy="396.0" r="0.8" fill="#1a1a1a" />
<circle cx="261.0" cy="396.0" r="1.7" fill="#d9d9d9" />
<circle cx="261.0" cy="396.0" r="1.2" fill="#8a8a8a" />
<circle cx="261.0" cy="396.0" r="0.8" fill="#1a1a1a" />
<circle cx="265.0" cy="396.0" r="1.7" fill="#d9d9d9" />
<circle cx="265.0" cy="396.0" r="1.2" fill="#8a8a8a" />
<circle cx="265.0" cy="396.0" r="0.8" fill="#1a1a1a" />
<rect x="268.5" y="401.5" width="36.5" height="39.0" fill="#060606" rx="2"/>
<circle cx="283.0" cy="426.0" r="16.3" fill="#c4c4c4" />
<circle cx="282.0" cy="425.0" r="13.5" fill="#e4e4e4" />
<text transform="translate(283 426) rotate(180)" font-size="6" fill="#444" text-anchor="middle"><tspan x="0" y="-3">220</tspan><tspan x="0" y="3.5">HFT</tspan><tspan x="0" y="10">3R7</tspan></text>
<rect x="312.0" y="409.0" width="28.0" height="32.0" fill="#060606" rx="2"/>
<circle cx="326.0" cy="424.3" r="11.6" fill="#c4c4c4" />
<circle cx="325.4" cy="423.7" r="9.6" fill="#e4e4e4" />
<text x="326" y="421" font-size="4.5" fill="#444" text-anchor="middle"><tspan x="326" dy="0">100</tspan><tspan x="326" dy="4.5">35V</tspan><tspan x="326" dy="4.5">768</tspan></text>
<rect x="300.0" y="419.0" width="12.0" height="4.0" fill="#9a9a9a" />
<rect x="260.4" y="440.0" width="35.5" height="44.0" fill="#0d0d0e" />
<rect x="295.6" y="440.0" width="7.0" height="44.0" fill="#b9b9a9" />
<rect x="297.0" y="440.0" width="2.5" height="44.0" fill="#e6e6d6" />
<rect x="242.0" y="445.0" width="12.0" height="4.0" fill="#e5e0c8" />
<rect x="254.0" y="445.8" width="7.0" height="2.4" fill="#8f8f8f" />
<rect x="242.0" y="452.8" width="12.0" height="4.0" fill="#e5e0c8" />
<rect x="254.0" y="453.6" width="7.0" height="2.4" fill="#8f8f8f" />
<rect x="242.0" y="459.6" width="12.0" height="4.0" fill="#e5e0c8" />
<rect x="254.0" y="460.4" width="7.0" height="2.4" fill="#8f8f8f" />
<rect x="242.0" y="466.3" width="12.0" height="4.0" fill="#e5e0c8" />
<rect x="254.0" y="467.1" width="7.0" height="2.4" fill="#8f8f8f" />
<rect x="242.0" y="473.4" width="12.0" height="4.0" fill="#e5e0c8" />
<rect x="254.0" y="474.2" width="7.0" height="2.4" fill="#8f8f8f" />
<rect x="214.0" y="454.0" width="25.0" height="28.0" fill="#0f0f10" />
<rect x="219.0" y="449.5" width="15.0" height="4.5" fill="#b9b9b9" />
<circle cx="339.0" cy="447.0" r="4.3" fill="#d9d9d9" />
<circle cx="339.0" cy="447.0" r="3.1" fill="#8a8a8a" />
<circle cx="339.0" cy="447.0" r="1.9" fill="#1a1a1a" />
<circle cx="339.0" cy="457.6" r="4.3" fill="#d9d9d9" />
<circle cx="339.0" cy="457.6" r="3.1" fill="#8a8a8a" />
<circle cx="339.0" cy="457.6" r="1.9" fill="#1a1a1a" />
<circle cx="339.0" cy="468.2" r="4.3" fill="#d9d9d9" />
<circle cx="339.0" cy="468.2" r="3.1" fill="#8a8a8a" />
<circle cx="339.0" cy="468.2" r="1.9" fill="#1a1a1a" />
<circle cx="339.0" cy="478.8" r="4.3" fill="#d9d9d9" />
<circle cx="339.0" cy="478.8" r="3.1" fill="#8a8a8a" />
<circle cx="339.0" cy="478.8" r="1.9" fill="#1a1a1a" />
<rect x="285.5" y="486.5" width="8.5" height="24.0" fill="#050505" rx="2"/>
<rect x="288.5" y="495.0" width="2.6" height="2.6" fill="#b79b6b" />
<rect x="295.5" y="486.5" width="8.5" height="24.0" fill="#050505" rx="2"/>
<rect x="298.5" y="495.0" width="2.6" height="2.6" fill="#b79b6b" />
<rect x="305.5" y="486.5" width="8.5" height="24.0" fill="#050505" rx="2"/>
<rect x="308.5" y="495.0" width="2.6" height="2.6" fill="#b79b6b" />
<rect x="315.5" y="486.5" width="8.5" height="24.0" fill="#050505" rx="2"/>
<rect x="318.5" y="495.0" width="2.6" height="2.6" fill="#b79b6b" />
<rect x="331.8" y="486.5" width="8.5" height="24.0" fill="#050505" rx="2"/>
<rect x="334.8" y="495.0" width="2.6" height="2.6" fill="#b79b6b" />
<rect x="341.8" y="486.5" width="8.5" height="24.0" fill="#050505" rx="2"/>
<rect x="344.8" y="495.0" width="2.6" height="2.6" fill="#b79b6b" />
<rect x="351.8" y="486.5" width="8.5" height="24.0" fill="#050505" rx="2"/>
<rect x="354.8" y="495.0" width="2.6" height="2.6" fill="#b79b6b" />
<text x="286" y="517" font-size="6" fill="#aaa" class="m">SDOUT</text>
<text x="331" y="517" font-size="6" fill="#aaa" class="m">ICSP</text>
<rect x="286.5" y="560.5" width="21.0" height="12.5" fill="#050505" rx="2"/>
<rect x="291.0" y="565.0" width="2.5" height="2.5" fill="#b79b6b" />
<rect x="301.0" y="565.0" width="2.5" height="2.5" fill="#b79b6b" />
<text x="287" y="558" font-size="5.5" fill="#bbb" class="m">3V +</text>
<rect x="379.0" y="368.5" width="5.0" height="13.0" fill="#4a4a4a" />
<rect x="387.7" y="368.3" width="5.2" height="13.3" fill="#f1efe8" />
<rect x="387.7" y="372.0" width="5.2" height="6.0" fill="#ffffff" />
<rect x="395.4" y="368.3" width="5.2" height="13.3" fill="#f1efe8" />
<rect x="395.4" y="372.0" width="5.2" height="6.0" fill="#ffffff" />
<rect x="402.5" y="368.3" width="5.2" height="13.3" fill="#f1efe8" />
<rect x="402.5" y="372.0" width="5.2" height="6.0" fill="#ffffff" />
<rect x="409.7" y="368.3" width="5.2" height="13.3" fill="#f1efe8" />
<rect x="409.7" y="372.0" width="5.2" height="6.0" fill="#ffffff" />
<rect x="417.0" y="368.3" width="5.2" height="13.3" fill="#f1efe8" />
<rect x="417.0" y="372.0" width="5.2" height="6.0" fill="#ffffff" />
<rect x="423.9" y="368.3" width="5.2" height="13.3" fill="#f1efe8" />
<rect x="423.9" y="372.0" width="5.2" height="6.0" fill="#ffffff" />
<text transform="translate(386.2 363) rotate(90)" font-size="6.7" fill="#d4d4d4" class="m" text-anchor="end">LHB</text>
<text transform="translate(396.4 363) rotate(90)" font-size="6.7" fill="#d4d4d4" class="m" text-anchor="end">LFAN1</text>
<text transform="translate(402.8 363) rotate(90)" font-size="6.7" fill="#d4d4d4" class="m" text-anchor="end">LFAN2</text>
<text transform="translate(409.6 363) rotate(90)" font-size="6.7" fill="#d4d4d4" class="m" text-anchor="end">LEX3</text>
<text transform="translate(416.2 363) rotate(90)" font-size="6.7" fill="#d4d4d4" class="m" text-anchor="end">LEX2</text>
<text transform="translate(422.8 363) rotate(90)" font-size="6.7" fill="#d4d4d4" class="m" text-anchor="end">LEX1</text>
<text transform="translate(371 363) rotate(90)" font-size="6.7" fill="#d4d4d4" class="m" text-anchor="end">R73</text>
<text transform="translate(377.6 363) rotate(90)" font-size="6.7" fill="#d4d4d4" class="m" text-anchor="end">R72</text>
<rect x="371.0" y="368.5" width="4.6" height="12.5" fill="#2a2a2a" />
<rect x="371.0" y="368.5" width="4.6" height="2.4" fill="#d8d8d8" />
<rect x="371.0" y="378.6" width="4.6" height="2.4" fill="#d8d8d8" />
<text x="418" y="340" font-size="5.5" fill="#bbb" class="m">RN2</text>
<rect x="404.0" y="333.0" width="2.0" height="2.0" fill="#999" />
<rect x="404.0" y="337.0" width="2.0" height="2.0" fill="#999" />
<rect x="407.0" y="333.0" width="2.0" height="2.0" fill="#999" />
<rect x="407.0" y="337.0" width="2.0" height="2.0" fill="#999" />
<rect x="410.0" y="333.0" width="2.0" height="2.0" fill="#999" />
<rect x="410.0" y="337.0" width="2.0" height="2.0" fill="#999" />
<rect x="413.0" y="333.0" width="2.0" height="2.0" fill="#999" />
<rect x="413.0" y="337.0" width="2.0" height="2.0" fill="#999" />
<circle cx="375.4" cy="395.4" r="4.3" fill="#d9d9d9" />
<circle cx="375.4" cy="395.4" r="3.1" fill="#8a8a8a" />
<circle cx="375.4" cy="395.4" r="1.9" fill="#1a1a1a" />
<circle cx="375.4" cy="405.6" r="4.3" fill="#d9d9d9" />
<circle cx="375.4" cy="405.6" r="3.1" fill="#8a8a8a" />
<circle cx="375.4" cy="405.6" r="1.9" fill="#1a1a1a" />
<circle cx="386.0" cy="395.4" r="4.3" fill="#d9d9d9" />
<circle cx="386.0" cy="395.4" r="3.1" fill="#8a8a8a" />
<circle cx="386.0" cy="395.4" r="1.9" fill="#1a1a1a" />
<circle cx="386.0" cy="405.6" r="4.3" fill="#d9d9d9" />
<circle cx="386.0" cy="405.6" r="3.1" fill="#8a8a8a" />
<circle cx="386.0" cy="405.6" r="1.9" fill="#1a1a1a" />
<circle cx="396.5" cy="395.4" r="4.3" fill="#d9d9d9" />
<circle cx="396.5" cy="395.4" r="3.1" fill="#8a8a8a" />
<circle cx="396.5" cy="395.4" r="1.9" fill="#1a1a1a" />
<circle cx="396.5" cy="405.6" r="4.3" fill="#d9d9d9" />
<circle cx="396.5" cy="405.6" r="3.1" fill="#8a8a8a" />
<circle cx="396.5" cy="405.6" r="1.9" fill="#1a1a1a" />
<circle cx="407.0" cy="395.4" r="4.3" fill="#d9d9d9" />
<circle cx="407.0" cy="395.4" r="3.1" fill="#8a8a8a" />
<circle cx="407.0" cy="395.4" r="1.9" fill="#1a1a1a" />
<circle cx="407.0" cy="405.6" r="4.3" fill="#d9d9d9" />
<circle cx="407.0" cy="405.6" r="3.1" fill="#8a8a8a" />
<circle cx="407.0" cy="405.6" r="1.9" fill="#1a1a1a" />
<circle cx="443.8" cy="412.8" r="23.8" fill="#24231d" />
<circle cx="443.8" cy="412.8" r="21.3" fill="#32312a" />
<rect x="441.5" y="431.0" width="10.0" height="11.0" fill="#54543a" rx="2.5"/>
<circle cx="444.0" cy="412.5" r="2.4" fill="#e8d31a" />
<rect x="374.0" y="420.0" width="13.0" height="6.0" fill="#c9c9c9" />
<rect x="377.0" y="421.0" width="7.0" height="4.0" fill="#444" />
<text x="391" y="432" font-size="7.8" fill="#ccc" class="m">IC1</text>
<text x="345" y="408" font-size="5.5" fill="#ccc" class="m">RN1</text>
<rect x="346.0" y="412.0" width="2.2" height="10.0" fill="#444" />
<rect x="349.5" y="412.0" width="2.2" height="10.0" fill="#444" />
<rect x="353.0" y="412.0" width="2.2" height="10.0" fill="#444" />
<rect x="356.5" y="412.0" width="2.2" height="10.0" fill="#444" />
<rect x="381.5" y="441.5" width="58.0" height="58.0" fill="#212124" />
<text x="397" y="468" font-size="4.6" fill="#4c4c4c" class="m">ATMEGA2560</text>
<text x="397" y="474" font-size="4.6" fill="#444" class="m">16AU 1245</text>
<rect x="385.5" y="433.5" width="1.1" height="8.5" fill="#c2c2c2" />
<rect x="385.5" y="499.0" width="1.1" height="8.0" fill="#c2c2c2" />
<rect x="374.3" y="444.0" width="7.7" height="1.1" fill="#d0d0d0" />
<rect x="439.0" y="444.0" width="7.2" height="1.1" fill="#d0d0d0" />
<rect x="387.6" y="433.5" width="1.1" height="8.5" fill="#c2c2c2" />
<rect x="387.6" y="499.0" width="1.1" height="8.0" fill="#c2c2c2" />
<rect x="374.3" y="446.1" width="7.7" height="1.1" fill="#d0d0d0" />
<rect x="439.0" y="446.1" width="7.2" height="1.1" fill="#d0d0d0" />
<rect x="389.6" y="433.5" width="1.1" height="8.5" fill="#c2c2c2" />
<rect x="389.6" y="499.0" width="1.1" height="8.0" fill="#c2c2c2" />
<rect x="374.3" y="448.1" width="7.7" height="1.1" fill="#d0d0d0" />
<rect x="439.0" y="448.1" width="7.2" height="1.1" fill="#d0d0d0" />
<rect x="391.6" y="433.5" width="1.1" height="8.5" fill="#c2c2c2" />
<rect x="391.6" y="499.0" width="1.1" height="8.0" fill="#c2c2c2" />
<rect x="374.3" y="450.1" width="7.7" height="1.1" fill="#d0d0d0" />
<rect x="439.0" y="450.1" width="7.2" height="1.1" fill="#d0d0d0" />
<rect x="393.7" y="433.5" width="1.1" height="8.5" fill="#c2c2c2" />
<rect x="393.7" y="499.0" width="1.1" height="8.0" fill="#c2c2c2" />
<rect x="374.3" y="452.2" width="7.7" height="1.1" fill="#d0d0d0" />
<rect x="439.0" y="452.2" width="7.2" height="1.1" fill="#d0d0d0" />
<rect x="395.8" y="433.5" width="1.1" height="8.5" fill="#c2c2c2" />
<rect x="395.8" y="499.0" width="1.1" height="8.0" fill="#c2c2c2" />
<rect x="374.3" y="454.2" width="7.7" height="1.1" fill="#d0d0d0" />
<rect x="439.0" y="454.2" width="7.2" height="1.1" fill="#d0d0d0" />
<rect x="397.8" y="433.5" width="1.1" height="8.5" fill="#c2c2c2" />
<rect x="397.8" y="499.0" width="1.1" height="8.0" fill="#c2c2c2" />
<rect x="374.3" y="456.3" width="7.7" height="1.1" fill="#d0d0d0" />
<rect x="439.0" y="456.3" width="7.2" height="1.1" fill="#d0d0d0" />
<rect x="399.9" y="433.5" width="1.1" height="8.5" fill="#c2c2c2" />
<rect x="399.9" y="499.0" width="1.1" height="8.0" fill="#c2c2c2" />
<rect x="374.3" y="458.4" width="7.7" height="1.1" fill="#d0d0d0" />
<rect x="439.0" y="458.4" width="7.2" height="1.1" fill="#d0d0d0" />
<rect x="401.9" y="433.5" width="1.1" height="8.5" fill="#c2c2c2" />
<rect x="401.9" y="499.0" width="1.1" height="8.0" fill="#c2c2c2" />
<rect x="374.3" y="460.4" width="7.7" height="1.1" fill="#d0d0d0" />
<rect x="439.0" y="460.4" width="7.2" height="1.1" fill="#d0d0d0" />
<rect x="403.9" y="433.5" width="1.1" height="8.5" fill="#c2c2c2" />
<rect x="403.9" y="499.0" width="1.1" height="8.0" fill="#c2c2c2" />
<rect x="374.3" y="462.4" width="7.7" height="1.1" fill="#d0d0d0" />
<rect x="439.0" y="462.4" width="7.2" height="1.1" fill="#d0d0d0" />
<rect x="406.0" y="433.5" width="1.1" height="8.5" fill="#c2c2c2" />
<rect x="406.0" y="499.0" width="1.1" height="8.0" fill="#c2c2c2" />
<rect x="374.3" y="464.5" width="7.7" height="1.1" fill="#d0d0d0" />
<rect x="439.0" y="464.5" width="7.2" height="1.1" fill="#d0d0d0" />
<rect x="408.1" y="433.5" width="1.1" height="8.5" fill="#c2c2c2" />
<rect x="408.1" y="499.0" width="1.1" height="8.0" fill="#c2c2c2" />
<rect x="374.3" y="466.6" width="7.7" height="1.1" fill="#d0d0d0" />
<rect x="439.0" y="466.6" width="7.2" height="1.1" fill="#d0d0d0" />
<rect x="410.1" y="433.5" width="1.1" height="8.5" fill="#c2c2c2" />
<rect x="410.1" y="499.0" width="1.1" height="8.0" fill="#c2c2c2" />
<rect x="374.3" y="468.6" width="7.7" height="1.1" fill="#d0d0d0" />
<rect x="439.0" y="468.6" width="7.2" height="1.1" fill="#d0d0d0" />
<rect x="412.1" y="433.5" width="1.1" height="8.5" fill="#c2c2c2" />
<rect x="412.1" y="499.0" width="1.1" height="8.0" fill="#c2c2c2" />
<rect x="374.3" y="470.6" width="7.7" height="1.1" fill="#d0d0d0" />
<rect x="439.0" y="470.6" width="7.2" height="1.1" fill="#d0d0d0" />
<rect x="414.2" y="433.5" width="1.1" height="8.5" fill="#c2c2c2" />
<rect x="414.2" y="499.0" width="1.1" height="8.0" fill="#c2c2c2" />
<rect x="374.3" y="472.7" width="7.7" height="1.1" fill="#d0d0d0" />
<rect x="439.0" y="472.7" width="7.2" height="1.1" fill="#d0d0d0" />
<rect x="416.2" y="433.5" width="1.1" height="8.5" fill="#c2c2c2" />
<rect x="416.2" y="499.0" width="1.1" height="8.0" fill="#c2c2c2" />
<rect x="374.3" y="474.8" width="7.7" height="1.1" fill="#d0d0d0" />
<rect x="439.0" y="474.8" width="7.2" height="1.1" fill="#d0d0d0" />
<rect x="418.3" y="433.5" width="1.1" height="8.5" fill="#c2c2c2" />
<rect x="418.3" y="499.0" width="1.1" height="8.0" fill="#c2c2c2" />
<rect x="374.3" y="476.8" width="7.7" height="1.1" fill="#d0d0d0" />
<rect x="439.0" y="476.8" width="7.2" height="1.1" fill="#d0d0d0" />
<rect x="420.4" y="433.5" width="1.1" height="8.5" fill="#c2c2c2" />
<rect x="420.4" y="499.0" width="1.1" height="8.0" fill="#c2c2c2" />
<rect x="374.3" y="478.9" width="7.7" height="1.1" fill="#d0d0d0" />
<rect x="439.0" y="478.9" width="7.2" height="1.1" fill="#d0d0d0" />
<rect x="422.4" y="433.5" width="1.1" height="8.5" fill="#c2c2c2" />
<rect x="422.4" y="499.0" width="1.1" height="8.0" fill="#c2c2c2" />
<rect x="374.3" y="480.9" width="7.7" height="1.1" fill="#d0d0d0" />
<rect x="439.0" y="480.9" width="7.2" height="1.1" fill="#d0d0d0" />
<rect x="424.4" y="433.5" width="1.1" height="8.5" fill="#c2c2c2" />
<rect x="424.4" y="499.0" width="1.1" height="8.0" fill="#c2c2c2" />
<rect x="374.3" y="482.9" width="7.7" height="1.1" fill="#d0d0d0" />
<rect x="439.0" y="482.9" width="7.2" height="1.1" fill="#d0d0d0" />
<rect x="426.5" y="433.5" width="1.1" height="8.5" fill="#c2c2c2" />
<rect x="426.5" y="499.0" width="1.1" height="8.0" fill="#c2c2c2" />
<rect x="374.3" y="485.0" width="7.7" height="1.1" fill="#d0d0d0" />
<rect x="439.0" y="485.0" width="7.2" height="1.1" fill="#d0d0d0" />
<rect x="428.6" y="433.5" width="1.1" height="8.5" fill="#c2c2c2" />
<rect x="428.6" y="499.0" width="1.1" height="8.0" fill="#c2c2c2" />
<rect x="374.3" y="487.1" width="7.7" height="1.1" fill="#d0d0d0" />
<rect x="439.0" y="487.1" width="7.2" height="1.1" fill="#d0d0d0" />
<rect x="430.6" y="433.5" width="1.1" height="8.5" fill="#c2c2c2" />
<rect x="430.6" y="499.0" width="1.1" height="8.0" fill="#c2c2c2" />
<rect x="374.3" y="489.1" width="7.7" height="1.1" fill="#d0d0d0" />
<rect x="439.0" y="489.1" width="7.2" height="1.1" fill="#d0d0d0" />
<rect x="432.6" y="433.5" width="1.1" height="8.5" fill="#c2c2c2" />
<rect x="432.6" y="499.0" width="1.1" height="8.0" fill="#c2c2c2" />
<rect x="374.3" y="491.1" width="7.7" height="1.1" fill="#d0d0d0" />
<rect x="439.0" y="491.1" width="7.2" height="1.1" fill="#d0d0d0" />
<rect x="434.7" y="433.5" width="1.1" height="8.5" fill="#c2c2c2" />
<rect x="434.7" y="499.0" width="1.1" height="8.0" fill="#c2c2c2" />
<rect x="374.3" y="493.2" width="7.7" height="1.1" fill="#d0d0d0" />
<rect x="439.0" y="493.2" width="7.2" height="1.1" fill="#d0d0d0" />
<rect x="377.0" y="517.4" width="29.0" height="19.0" fill="#9e9e9e" rx="9"/>
<rect x="379.0" y="519.0" width="25.0" height="15.5" fill="#cfcfcf" rx="7.5"/>
<rect x="315.0" y="517.2" width="58.6" height="58.4" fill="#d2d2d2" />
<rect x="317.5" y="519.5" width="53.6" height="41.0" fill="#dedede" />
<rect x="321.5" y="563.2" width="36.5" height="10.0" fill="#1a1a1a" />
<rect x="324.6" y="563.2" width="2.3" height="10.0" fill="#e4e4e4" />
<rect x="329.5" y="563.2" width="2.3" height="10.0" fill="#e4e4e4" />
<rect x="334.4" y="563.2" width="2.3" height="10.0" fill="#e4e4e4" />
<rect x="339.3" y="563.2" width="2.3" height="10.0" fill="#e4e4e4" />
<rect x="344.2" y="563.2" width="2.3" height="10.0" fill="#e4e4e4" />
<rect x="349.1" y="563.2" width="2.3" height="10.0" fill="#e4e4e4" />
<rect x="354.0" y="563.2" width="2.3" height="10.0" fill="#e4e4e4" />
<rect x="356.5" y="524.8" width="4.6" height="20.6" fill="#161616" />
<path d="M364.6 563 L364.6 546.5 L366.6 546.5 L366.6 542.8 L372.4 542.8 L372.4 563" fill="none" stroke="#222" stroke-width="1.1"/>
<rect x="332.4" y="537.0" width="2.6" height="5.8" fill="#161616" />
<rect x="341.2" y="537.0" width="2.6" height="5.8" fill="#161616" />
<circle cx="320.5" cy="530.5" r="1.6" fill="#8a7a20" />
<circle cx="320.5" cy="530.5" r="0.8" fill="#222" />
<text transform="translate(354.8 523.6) rotate(180)" font-size="14.2" fill="#2e2e2e" textLength="24.8" lengthAdjust="spacingAndGlyphs">11274</text>
<rect x="326.0" y="512.5" width="30.0" height="5.0" fill="#0a0a0a" />
<rect x="320.0" y="514.0" width="5.0" height="4.0" fill="#c9c9c9" />
<rect x="353.0" y="514.0" width="5.0" height="4.0" fill="#c9c9c9" />
<rect x="385.6" y="557.6" width="4.6" height="13.0" fill="#efefe6" />
<rect x="393.2" y="557.6" width="4.6" height="13.0" fill="#efefe6" />
<rect x="400.7" y="557.6" width="4.6" height="13.0" fill="#efefe6" />
<text transform="translate(384.6 551.5) rotate(90)" font-size="6.6" fill="#dcdcdc" class="m" text-anchor="end">RX</text>
<text transform="translate(393.3 551.5) rotate(90)" font-size="6.6" fill="#dcdcdc" class="m" text-anchor="end">TX</text>
<text transform="translate(401.2 551.5) rotate(90)" font-size="6.6" fill="#dcdcdc" class="m" text-anchor="end">PWR</text>
<rect x="430.5" y="541.5" width="16.0" height="16.5" fill="#060606" rx="3"/>
<rect x="434.0" y="551.0" width="10.0" height="1.6" fill="#9a8a70" />
<rect x="435.0" y="548.0" width="8.0" height="1.2" fill="#777" />
<circle cx="423.6" cy="559.4" r="2.6" fill="#cfcfcf" />
<circle cx="423.6" cy="559.4" r="1.3" fill="#333" />
<circle cx="451.4" cy="559.4" r="2.8" fill="#cfcfcf" />
<circle cx="451.4" cy="559.4" r="1.4" fill="#333" />
<rect x="420.4" y="562.5" width="28.0" height="24.5" fill="#0b0b0c" rx="2.5"/>
<rect x="424.0" y="575.0" width="20.0" height="1.2" fill="#2e2e30" />
<rect x="424.0" y="586.5" width="20.0" height="2.2" fill="#8e8e92" rx="1" filter="url(#b1)"/>
<text x="420.6" y="538.6" font-size="7.6" fill="#e4e4e4" class="m" font-weight="bold" letter-spacing="0.3">RESE</text>
<text x="452.5" y="538.6" font-size="7.6" fill="#e4e4e4" class="m" font-weight="bold" letter-spacing="0.3">EN</text>
<text x="456" y="544.5" font-size="6" fill="#ddd" class="m" letter-spacing="0.4">RSTEXT</text>
<rect x="455.5" y="560.4" width="20.0" height="16.5" fill="#e9e9e9" />
<rect x="471.4" y="329.6" width="85.4" height="28" fill="none" stroke="#d6d6d6" stroke-width="0.9"/>
<line x1="514.5" y1="329.6" x2="514.5" y2="336" stroke="#d6d6d6" stroke-width="0.9"/>
<circle cx="477.7" cy="341.4" r="4.4" fill="#d9d9d9" />
<circle cx="477.7" cy="341.4" r="3.2" fill="#8a8a8a" />
<circle cx="477.7" cy="341.4" r="2.0" fill="#1a1a1a" />
<circle cx="477.7" cy="352.3" r="4.4" fill="#d9d9d9" />
<circle cx="477.7" cy="352.3" r="3.2" fill="#8a8a8a" />
<circle cx="477.7" cy="352.3" r="2.0" fill="#1a1a1a" />
<circle cx="488.2" cy="341.4" r="4.4" fill="#d9d9d9" />
<circle cx="488.2" cy="341.4" r="3.2" fill="#8a8a8a" />
<circle cx="488.2" cy="341.4" r="2.0" fill="#1a1a1a" />
<circle cx="488.2" cy="352.3" r="4.4" fill="#d9d9d9" />
<circle cx="488.2" cy="352.3" r="3.2" fill="#8a8a8a" />
<circle cx="488.2" cy="352.3" r="2.0" fill="#1a1a1a" />
<circle cx="498.8" cy="341.4" r="4.4" fill="#d9d9d9" />
<circle cx="498.8" cy="341.4" r="3.2" fill="#8a8a8a" />
<circle cx="498.8" cy="341.4" r="2.0" fill="#1a1a1a" />
<circle cx="498.8" cy="352.3" r="4.4" fill="#d9d9d9" />
<circle cx="498.8" cy="352.3" r="3.2" fill="#8a8a8a" />
<circle cx="498.8" cy="352.3" r="2.0" fill="#1a1a1a" />
<circle cx="509.1" cy="341.4" r="4.4" fill="#d9d9d9" />
<circle cx="509.1" cy="341.4" r="3.2" fill="#8a8a8a" />
<circle cx="509.1" cy="341.4" r="2.0" fill="#1a1a1a" />
<circle cx="509.1" cy="352.3" r="4.4" fill="#d9d9d9" />
<circle cx="509.1" cy="352.3" r="3.2" fill="#8a8a8a" />
<circle cx="509.1" cy="352.3" r="2.0" fill="#1a1a1a" />
<circle cx="520.4" cy="341.4" r="4.4" fill="#d9d9d9" />
<circle cx="520.4" cy="341.4" r="3.2" fill="#8a8a8a" />
<circle cx="520.4" cy="341.4" r="2.0" fill="#1a1a1a" />
<circle cx="520.4" cy="352.3" r="4.4" fill="#d9d9d9" />
<circle cx="520.4" cy="352.3" r="3.2" fill="#8a8a8a" />
<circle cx="520.4" cy="352.3" r="2.0" fill="#1a1a1a" />
<circle cx="530.7" cy="341.4" r="4.4" fill="#d9d9d9" />
<circle cx="530.7" cy="341.4" r="3.2" fill="#8a8a8a" />
<circle cx="530.7" cy="341.4" r="2.0" fill="#1a1a1a" />
<circle cx="530.7" cy="352.3" r="4.4" fill="#d9d9d9" />
<circle cx="530.7" cy="352.3" r="3.2" fill="#8a8a8a" />
<circle cx="530.7" cy="352.3" r="2.0" fill="#1a1a1a" />
<circle cx="541.1" cy="341.4" r="4.4" fill="#d9d9d9" />
<circle cx="541.1" cy="341.4" r="3.2" fill="#8a8a8a" />
<circle cx="541.1" cy="341.4" r="2.0" fill="#1a1a1a" />
<circle cx="541.1" cy="352.3" r="4.4" fill="#d9d9d9" />
<circle cx="541.1" cy="352.3" r="3.2" fill="#8a8a8a" />
<circle cx="541.1" cy="352.3" r="2.0" fill="#1a1a1a" />
<circle cx="551.6" cy="341.4" r="4.4" fill="#d9d9d9" />
<circle cx="551.6" cy="341.4" r="3.2" fill="#8a8a8a" />
<circle cx="551.6" cy="341.4" r="2.0" fill="#1a1a1a" />
<circle cx="551.6" cy="352.3" r="4.4" fill="#d9d9d9" />
<circle cx="551.6" cy="352.3" r="3.2" fill="#8a8a8a" />
<circle cx="551.6" cy="352.3" r="2.0" fill="#1a1a1a" />
<text x="474" y="335.5" font-size="5.5" fill="#ddd" class="m">5V</text>
<text x="544" y="335.5" font-size="5.5" fill="#ddd" class="m">12V</text>
<text x="465" y="344" font-size="6" fill="#ddd" class="m">-</text>
<text x="465" y="355" font-size="6" fill="#ddd" class="m">+</text>
<rect x="487.8" y="366.2" width="20.8" height="67.4" fill="#050506" rx="3"/>
<circle cx="493.3" cy="376.2" r="1.5" fill="#cfc8b8" />
<circle cx="503.6" cy="376.2" r="1.5" fill="#cfc8b8" />
<circle cx="493.3" cy="386.7" r="1.5" fill="#cfc8b8" />
<circle cx="503.6" cy="386.7" r="1.5" fill="#cfc8b8" />
<circle cx="493.3" cy="397.2" r="1.5" fill="#cfc8b8" />
<circle cx="503.6" cy="397.2" r="1.5" fill="#cfc8b8" />
<circle cx="493.3" cy="407.7" r="1.5" fill="#cfc8b8" />
<circle cx="503.6" cy="407.7" r="1.5" fill="#cfc8b8" />
<circle cx="493.3" cy="418.2" r="1.5" fill="#cfc8b8" />
<circle cx="503.6" cy="418.2" r="1.5" fill="#cfc8b8" />
<circle cx="493.3" cy="428.7" r="1.5" fill="#cfc8b8" />
<circle cx="503.6" cy="428.7" r="1.5" fill="#cfc8b8" />
<rect x="524.0" y="366.2" width="20.8" height="56.4" fill="#050506" rx="3"/>
<circle cx="529.0" cy="376.8" r="1.5" fill="#cfc8b8" />
<circle cx="539.6" cy="376.8" r="1.5" fill="#cfc8b8" />
<circle cx="529.0" cy="387.5" r="1.5" fill="#cfc8b8" />
<circle cx="539.6" cy="387.5" r="1.5" fill="#cfc8b8" />
<circle cx="529.0" cy="398.2" r="1.5" fill="#cfc8b8" />
<circle cx="539.6" cy="398.2" r="1.5" fill="#cfc8b8" />
<circle cx="529.0" cy="408.9" r="1.5" fill="#cfc8b8" />
<circle cx="539.6" cy="408.9" r="1.5" fill="#cfc8b8" />
<circle cx="529.0" cy="419.6" r="1.5" fill="#cfc8b8" />
<circle cx="539.6" cy="419.6" r="1.5" fill="#cfc8b8" />
<text transform="translate(510.3 367) rotate(90)" font-size="8" fill="#c4c4c4" class="m">LCD</text>
<text transform="translate(517.6 367) rotate(90)" font-size="8.3" fill="#c4c4c4" class="m">Keypad</text>
<text transform="translate(484.8 444.8) rotate(-90)" font-size="6.1" fill="#c4c4c4" class="m">ap.org/wiki/Megatronics</text>
<text transform="translate(476.4 442) rotate(-90)" font-size="6.1" fill="#c4c4c4" class="m">red by: Bart Meijer</text>
<text transform="translate(471.3 442) rotate(-90)" font-size="6.1" fill="#c4c4c4" class="m">tronics v2.0 rev @</text>
<text transform="translate(513.2 450) rotate(-90)" font-size="6.2" fill="#c4c4c4" class="m">Contrast</text>
<rect x="491.0" y="439.0" width="14.5" height="13.5" fill="#d4d4d4" rx="2"/>
<circle cx="498.2" cy="445.7" r="4.2" fill="#efe9ec" />
<circle cx="498.2" cy="445.7" r="2.4" fill="#7a5a6a" />
<rect x="496.2" y="445.2" width="4.0" height="1.0" fill="#2a1a2a" />
<rect x="558.0" y="309.5" width="28.3" height="22.9" fill="#f1f1f1" />
<rect x="566.0" y="312.5" width="8.0" height="16.9" fill="#dedede" />
<rect x="568.5" y="314.5" width="3.0" height="12.9" fill="#f8f8f8" />
<rect x="558.0" y="334.6" width="28.3" height="23.2" fill="#f1f1f1" />
<rect x="566.0" y="337.6" width="8.0" height="17.2" fill="#dedede" />
<rect x="568.5" y="339.6" width="3.0" height="13.2" fill="#f8f8f8" />
<rect x="558.0" y="360.2" width="28.3" height="23.8" fill="#f1f1f1" />
<rect x="566.0" y="363.2" width="8.0" height="17.8" fill="#dedede" />
<rect x="568.5" y="365.2" width="3.0" height="13.8" fill="#f8f8f8" />
<rect x="558.0" y="385.8" width="28.3" height="23.4" fill="#f1f1f1" />
<rect x="566.0" y="388.8" width="8.0" height="17.4" fill="#dedede" />
<rect x="568.5" y="390.8" width="3.0" height="13.4" fill="#f8f8f8" />
<rect x="558.0" y="411.2" width="28.3" height="23.6" fill="#f1f1f1" />
<rect x="566.0" y="414.2" width="8.0" height="17.6" fill="#dedede" />
<rect x="568.5" y="416.2" width="3.0" height="13.6" fill="#f8f8f8" />
<rect x="558.0" y="436.2" width="28.3" height="24.1" fill="#f1f1f1" />
<rect x="566.0" y="439.2" width="8.0" height="18.1" fill="#dedede" />
<rect x="568.5" y="441.2" width="3.0" height="14.1" fill="#f8f8f8" />
<text transform="translate(592.2 331.4) rotate(-90)" font-size="7.4" fill="#d0d0d0" class="m">FAN1</text>
<text transform="translate(592.2 355.8) rotate(-90)" font-size="7.4" fill="#d0d0d0" class="m">FAN2</text>
<text transform="translate(592.2 382.6) rotate(-90)" font-size="7.4" fill="#d0d0d0" class="m">T0</text>
<text transform="translate(592.2 408) rotate(-90)" font-size="7.4" fill="#d0d0d0" class="m">T1</text>
<text transform="translate(592.2 432.6) rotate(-90)" font-size="7.4" fill="#d0d0d0" class="m">T2</text>
<text transform="translate(592.2 457) rotate(-90)" font-size="7.4" fill="#d0d0d0" class="m">T3</text>
<polygon points="548.6,462.5 591.5,461.5 591,557.5 549,558.5" fill="#4db273"/>
<rect x="548.8" y="463.0" width="7.0" height="95.0" fill="#3f9c60" />
<polygon points="548.6,462.5 591.5,461.5 591.5,466 548.6,467" fill="#74cf94"/>
<rect x="586.0" y="465.0" width="5.0" height="92.0" fill="#45a86a" />
<rect x="549.0" y="509.5" width="42.0" height="1.2" fill="#3a9058" />
<rect x="549.0" y="478.7" width="5.0" height="8.0" fill="#0b1a10" />
<rect x="549.0" y="500.0" width="5.0" height="8.0" fill="#0b1a10" />
<rect x="549.0" y="521.4" width="5.0" height="8.0" fill="#0b1a10" />
<rect x="549.0" y="541.5" width="5.0" height="8.0" fill="#0b1a10" />
<circle cx="572.0" cy="482.7" r="7.9" fill="#3f9a5e" />
<circle cx="572.0" cy="482.7" r="7.2" fill="#b9c0c4" />
<circle cx="571.4" cy="482.1" r="6.2" fill="#d9dee2" />
<rect x="564.8" y="481.4" width="14.4" height="2.6" fill="#7f888d" transform="rotate(0 572.0 482.7)"/>
<circle cx="570.2" cy="480.3" r="3.0" fill="#ffffff" opacity="0.75"/>
<circle cx="572.0" cy="504.0" r="7.9" fill="#3f9a5e" />
<circle cx="572.0" cy="504.0" r="7.2" fill="#b9c0c4" />
<circle cx="571.4" cy="503.4" r="6.2" fill="#d9dee2" />
<rect x="564.8" y="502.7" width="14.4" height="2.6" fill="#7f888d" transform="rotate(-30 572.0 504.0)"/>
<circle cx="570.2" cy="501.6" r="3.0" fill="#ffffff" opacity="0.75"/>
<circle cx="572.0" cy="525.4" r="7.9" fill="#3f9a5e" />
<circle cx="572.0" cy="525.4" r="7.2" fill="#b9c0c4" />
<circle cx="571.4" cy="524.8" r="6.2" fill="#d9dee2" />
<rect x="564.8" y="524.1" width="14.4" height="2.6" fill="#7f888d" transform="rotate(40 572.0 525.4)"/>
<circle cx="570.2" cy="523.0" r="3.0" fill="#ffffff" opacity="0.75"/>
<circle cx="572.0" cy="545.5" r="7.9" fill="#3f9a5e" />
<circle cx="572.0" cy="545.5" r="7.2" fill="#b9c0c4" />
<circle cx="571.4" cy="544.9" r="6.2" fill="#d9dee2" />
<rect x="564.8" y="544.2" width="14.4" height="2.6" fill="#7f888d" transform="rotate(0 572.0 545.5)"/>
<circle cx="570.2" cy="543.1" r="3.0" fill="#ffffff" opacity="0.75"/>
<rect x="512.5" y="466.0" width="8.4" height="22.0" fill="#050505" rx="2.5"/>
<rect x="515.5" y="474.5" width="2.4" height="2.4" fill="#b79b6b" />
<rect x="515.5" y="480.5" width="2.4" height="2.4" fill="#b79b6b" />
<rect x="522.5" y="466.0" width="8.4" height="22.0" fill="#050505" rx="2.5"/>
<rect x="525.5" y="474.5" width="2.4" height="2.4" fill="#b79b6b" />
<rect x="525.5" y="480.5" width="2.4" height="2.4" fill="#b79b6b" />
<rect x="532.5" y="466.0" width="8.4" height="22.0" fill="#050505" rx="2.5"/>
<rect x="535.5" y="474.5" width="2.4" height="2.4" fill="#b79b6b" />
<rect x="535.5" y="480.5" width="2.4" height="2.4" fill="#b79b6b" />
<text x="511.5" y="494.3" font-size="6" fill="#aaa" class="m" letter-spacing="0.8">EXTIC</text>
<text x="513" y="463.6" font-size="5.5" fill="#bbb" class="m" letter-spacing="2.2">C-+</text>
<text x="506" y="552" font-size="5.5" fill="#bbb" class="m" letter-spacing="0.6">AUX2</text>
<rect x="478.0" y="556.0" width="92.0" height="19.0" fill="#060606" />
<rect x="482.0" y="561.0" width="2.6" height="2.6" fill="#a89060" />
<rect x="492.3" y="561.0" width="2.6" height="2.6" fill="#a89060" />
<rect x="502.6" y="561.0" width="2.6" height="2.6" fill="#a89060" />
<rect x="512.9" y="561.0" width="2.6" height="2.6" fill="#a89060" />
<rect x="523.2" y="561.0" width="2.6" height="2.6" fill="#a89060" />
<rect x="533.5" y="561.0" width="2.6" height="2.6" fill="#a89060" />
<rect x="543.8" y="561.0" width="2.6" height="2.6" fill="#a89060" />
<rect x="554.1" y="561.0" width="2.6" height="2.6" fill="#a89060" />
<rect x="564.4" y="561.0" width="2.6" height="2.6" fill="#a89060" />
<rect x="509.0" y="510.0" width="6.0" height="2.0" fill="#cfcfcf" />
<rect x="509.0" y="516.0" width="6.0" height="2.0" fill="#cfcfcf" />
<rect x="509.0" y="522.0" width="6.0" height="2.0" fill="#cfcfcf" />
<rect x="512.0" y="525.0" width="12.0" height="6.0" fill="#9d9d9d" />
<rect x="514.0" y="526.0" width="8.0" height="4.0" fill="#555" />
<rect x="533.0" y="506.0" width="6.0" height="1.6" fill="#cfcfcf" />
<rect x="533.0" y="512.0" width="6.0" height="1.6" fill="#cfcfcf" />
<rect x="533.0" y="518.0" width="6.0" height="1.6" fill="#cfcfcf" />
<rect x="533.0" y="524.0" width="6.0" height="1.6" fill="#cfcfcf" />
<rect x="145.5" y="486.0" width="62.0" height="67.0" fill="#0c0c0c" />
<rect x="147.0" y="487.5" width="59.0" height="64.0" fill="#1a1a1a" rx="2"/>
<rect x="148.5" y="548.0" width="55.0" height="2.2" fill="#9a9a9a" />
<rect x="190.0" y="500.0" width="12.0" height="11.0" fill="#0a0a0a" />
<rect x="149.0" y="534.0" width="11.0" height="11.0" fill="#0a0a0a" />
<path d="M192 509 l4 -6 M194.5 510 l4 -6 M197 510.5 l3 -5" stroke="#d0442a" stroke-width="0.9"/>
<text transform="translate(162.4 501.8) rotate(180)" font-size="6.2" fill="#c9c9c9" text-anchor="middle">CHINA</text>
<text transform="translate(161.8 508.8) rotate(180)" font-size="6.4" fill="#c9c9c9" text-anchor="middle">1303-ZX</text>
<text transform="translate(177.7 525.4) rotate(180)" font-size="5.9" fill="#c9c9c9" text-anchor="middle" textLength="47" lengthAdjust="spacingAndGlyphs">U.S. PAT. 5309130</text>
<text transform="translate(179 535.5) rotate(180)" font-size="7.4" fill="#d5d5d5" text-anchor="middle">PE-53829NL</text>
<path d="M149.8 497 C165 499.5, 185 499.5, 197 498.5 C200 498, 201.5 496, 201.6 493" fill="none" stroke="#a8a8a8" stroke-width="0.9"/>
<rect x="210.0" y="499.0" width="19.0" height="32.0" fill="#e39a22" />
<rect x="211.5" y="497.5" width="16.0" height="3.0" fill="#c9c9c9" />
<rect x="212.0" y="530.0" width="15.0" height="3.0" fill="#d9d9d9" />
<rect x="215.0" y="505.0" width="6.0" height="20.0" fill="#c98516" />
<rect x="234.0" y="492.5" width="21.5" height="8.0" fill="#2c2aa2" stroke="#e8e8ff" stroke-width="0.6"/>
<text x="244.7" y="498.8" font-size="5" fill="#fff" text-anchor="middle" font-style="italic">Jumper</text>
<rect x="249.0" y="502.0" width="11.5" height="6.0" fill="#050505" />
<rect x="251.0" y="504.5" width="7.0" height="1.2" fill="#888" />
<rect x="233.0" y="524.0" width="5.0" height="10.0" fill="#b5b5b5" />
<rect x="233.0" y="527.0" width="5.0" height="4.0" fill="#6a5a4a" />
<text x="188.8" y="568.3" font-size="7.4" fill="#a6a6a6" textLength="25.5" lengthAdjust="spacingAndGlyphs" class="m" letter-spacing="0.4">PS-ON</text>
<circle cx="179.8" cy="564.8" r="5.6" fill="#c4c4c4" />
<circle cx="179.8" cy="564.8" r="4.0" fill="#2e2e2e" />
<circle cx="179.8" cy="564.8" r="2.2" fill="#8a8a8a" />
<circle cx="179.8" cy="564.8" r="1.0" fill="#222" />
<text transform="translate(213 545) rotate(-90)" font-size="5.5" fill="#bbb" class="m">IN1</text>
<rect x="223.0" y="543.5" width="46.0" height="8.0" fill="#262628" />
<rect x="220.5" y="550.4" width="49.8" height="67.2" fill="#bcbab6" />
<rect x="222.3" y="552.0" width="46.2" height="16.5" fill="#d0cecb" />
<rect x="224.0" y="553.5" width="43.0" height="5.0" fill="#dad8d4" />
<rect x="220.5" y="568.2" width="49.8" height="1.4" fill="#8a8884" />
<rect x="223.2" y="570.3" width="44.4" height="46.0" fill="#d2d0cc" />
<rect x="227.0" y="573.0" width="37.0" height="41.0" fill="#dddbd8" />
<rect x="220.5" y="551.0" width="2.2" height="66.5" fill="#9c9a96" />
<rect x="268.2" y="551.0" width="2.2" height="66.5" fill="#a4a29e" />
<circle cx="273.0" cy="565.5" r="4.0" fill="#cfcfcf" />
<circle cx="218.6" cy="565.5" r="3.4" fill="#cfcfcf" />
<text x="262" y="541" font-size="5.5" fill="#bbb" class="m">X1</text>
<polygon points="143.4,226 184.6,224.4 190,476 171,492.6 146,492.6" fill="#4db273"/>
<polygon points="143.4,228 146.4,228 148.4,492.6 146,492.6" fill="#43a368"/>
<polygon points="171.5,226 184.6,224.4 190,476 174.5,490 " fill="#40a062"/>
<polygon points="143.4,226 184.6,224.4 184.7,228.6 143.4,230.4" fill="#74cf94"/>
<rect x="178.2" y="240.8" width="5.8" height="8.4" fill="#0b1a10" />
<circle cx="159.2" cy="245.0" r="8.2" fill="#3f9a5e" />
<circle cx="159.2" cy="245.0" r="7.5" fill="#b9c0c4" />
<circle cx="158.6" cy="244.4" r="6.5" fill="#d9dee2" />
<rect x="151.7" y="243.7" width="15.0" height="2.6" fill="#7f888d" transform="rotate(-25 159.2 245.0)"/>
<circle cx="157.4" cy="242.6" r="3.1" fill="#ffffff" opacity="0.75"/>
<rect x="178.3" y="261.8" width="5.9" height="8.4" fill="#0b1a10" />
<circle cx="159.4" cy="266.0" r="8.2" fill="#3f9a5e" />
<circle cx="159.4" cy="266.0" r="7.5" fill="#b9c0c4" />
<circle cx="158.8" cy="265.4" r="6.5" fill="#d9dee2" />
<rect x="151.9" y="264.7" width="15.0" height="2.6" fill="#7f888d" transform="rotate(12 159.4 266.0)"/>
<circle cx="157.6" cy="263.6" r="3.1" fill="#ffffff" opacity="0.75"/>
<rect x="178.5" y="283.3" width="6.0" height="8.4" fill="#0b1a10" />
<circle cx="159.5" cy="287.5" r="8.2" fill="#3f9a5e" />
<circle cx="159.5" cy="287.5" r="7.5" fill="#b9c0c4" />
<circle cx="158.9" cy="286.9" r="6.5" fill="#d9dee2" />
<rect x="152.0" y="286.2" width="15.0" height="2.6" fill="#7f888d" transform="rotate(-1 159.5 287.5)"/>
<circle cx="157.7" cy="285.1" r="3.1" fill="#ffffff" opacity="0.75"/>
<rect x="178.6" y="304.8" width="6.1" height="8.4" fill="#0b1a10" />
<circle cx="159.7" cy="309.0" r="8.2" fill="#3f9a5e" />
<circle cx="159.7" cy="309.0" r="7.5" fill="#b9c0c4" />
<circle cx="159.1" cy="308.4" r="6.5" fill="#d9dee2" />
<rect x="152.2" y="307.7" width="15.0" height="2.6" fill="#7f888d" transform="rotate(-14 159.7 309.0)"/>
<circle cx="157.9" cy="306.6" r="3.1" fill="#ffffff" opacity="0.75"/>
<rect x="178.8" y="325.8" width="6.2" height="8.4" fill="#0b1a10" />
<circle cx="159.9" cy="330.0" r="8.2" fill="#3f9a5e" />
<circle cx="159.9" cy="330.0" r="7.5" fill="#b9c0c4" />
<circle cx="159.3" cy="329.4" r="6.5" fill="#d9dee2" />
<rect x="152.4" y="328.7" width="15.0" height="2.6" fill="#7f888d" transform="rotate(23 159.9 330.0)"/>
<circle cx="158.1" cy="327.6" r="3.1" fill="#ffffff" opacity="0.75"/>
<rect x="178.9" y="347.8" width="6.3" height="8.4" fill="#0b1a10" />
<circle cx="160.1" cy="352.0" r="8.2" fill="#3f9a5e" />
<circle cx="160.1" cy="352.0" r="7.5" fill="#b9c0c4" />
<circle cx="159.5" cy="351.4" r="6.5" fill="#d9dee2" />
<rect x="152.6" y="350.7" width="15.0" height="2.6" fill="#7f888d" transform="rotate(10 160.1 352.0)"/>
<circle cx="158.3" cy="349.6" r="3.1" fill="#ffffff" opacity="0.75"/>
<rect x="179.1" y="368.8" width="6.5" height="8.4" fill="#0b1a10" />
<circle cx="160.2" cy="373.0" r="8.2" fill="#3f9a5e" />
<circle cx="160.2" cy="373.0" r="7.5" fill="#b9c0c4" />
<circle cx="159.6" cy="372.4" r="6.5" fill="#d9dee2" />
<rect x="152.7" y="371.7" width="15.0" height="2.6" fill="#7f888d" transform="rotate(-3 160.2 373.0)"/>
<circle cx="158.4" cy="370.6" r="3.1" fill="#ffffff" opacity="0.75"/>
<rect x="179.2" y="390.3" width="6.6" height="8.4" fill="#0b1a10" />
<circle cx="160.4" cy="394.5" r="8.2" fill="#3f9a5e" />
<circle cx="160.4" cy="394.5" r="7.5" fill="#b9c0c4" />
<circle cx="159.8" cy="393.9" r="6.5" fill="#d9dee2" />
<rect x="152.9" y="393.2" width="15.0" height="2.6" fill="#7f888d" transform="rotate(-16 160.4 394.5)"/>
<circle cx="158.6" cy="392.1" r="3.1" fill="#ffffff" opacity="0.75"/>
<rect x="179.4" y="411.3" width="6.7" height="8.4" fill="#0b1a10" />
<circle cx="160.6" cy="415.5" r="8.2" fill="#3f9a5e" />
<circle cx="160.6" cy="415.5" r="7.5" fill="#b9c0c4" />
<circle cx="160.0" cy="414.9" r="6.5" fill="#d9dee2" />
<rect x="153.1" y="414.2" width="15.0" height="2.6" fill="#7f888d" transform="rotate(21 160.6 415.5)"/>
<circle cx="158.8" cy="413.1" r="3.1" fill="#ffffff" opacity="0.75"/>
<rect x="179.5" y="432.8" width="6.8" height="8.4" fill="#0b1a10" />
<circle cx="160.7" cy="437.0" r="8.2" fill="#3f9a5e" />
<circle cx="160.7" cy="437.0" r="7.5" fill="#b9c0c4" />
<circle cx="160.1" cy="436.4" r="6.5" fill="#d9dee2" />
<rect x="153.2" y="435.7" width="15.0" height="2.6" fill="#7f888d" transform="rotate(8 160.7 437.0)"/>
<circle cx="158.9" cy="434.6" r="3.1" fill="#ffffff" opacity="0.75"/>
<rect x="179.7" y="455.8" width="6.9" height="8.4" fill="#0b1a10" />
<circle cx="160.9" cy="460.0" r="8.2" fill="#3f9a5e" />
<circle cx="160.9" cy="460.0" r="7.5" fill="#b9c0c4" />
<circle cx="160.3" cy="459.4" r="6.5" fill="#d9dee2" />
<rect x="153.4" y="458.7" width="15.0" height="2.6" fill="#7f888d" transform="rotate(-5 160.9 460.0)"/>
<circle cx="159.1" cy="457.6" r="3.1" fill="#ffffff" opacity="0.75"/>
<rect x="179.8" y="476.8" width="7.0" height="8.4" fill="#0b1a10" />
<circle cx="161.1" cy="481.0" r="8.2" fill="#3f9a5e" />
<circle cx="161.1" cy="481.0" r="7.5" fill="#b9c0c4" />
<circle cx="160.5" cy="480.4" r="6.5" fill="#d9dee2" />
<rect x="153.6" y="479.7" width="15.0" height="2.6" fill="#7f888d" transform="rotate(-18 161.1 481.0)"/>
<circle cx="159.3" cy="478.6" r="3.1" fill="#ffffff" opacity="0.75"/>
<rect x="145.0" y="340.5" width="41.0" height="1.0" fill="#3a9058" />
<rect x="146.0" y="446.6" width="43.0" height="1.4" fill="#35895a" />
</g>
<rect x="187.0" y="10.0" width="11.6" height="26.0" fill="#3f3f3f" />
<rect x="163.2" y="35.5" width="59.0" height="59.3" fill="#151515" />
<text x="174.7" y="77.6" font-size="10.6" fill="#f4f4f4" textLength="27.2" lengthAdjust="spacingAndGlyphs">Z-axis</text>
<rect x="187.5" y="94.5" width="12.0" height="52.0" fill="#1a1a1a" />
<text transform="translate(197.5 143.5) rotate(-90)" font-size="10" font-style="italic" fill="#fff" textLength="43" lengthAdjust="spacingAndGlyphs">UTP cable</text>
<rect x="279.4" y="10.0" width="11.6" height="26.0" fill="#3f3f3f" />
<rect x="255.6" y="35.5" width="59.0" height="59.3" fill="#151515" />
<text x="267.1" y="77.6" font-size="10.6" fill="#f4f4f4" textLength="27.2" lengthAdjust="spacingAndGlyphs">X-axis</text>
<rect x="279.9" y="94.5" width="12.0" height="52.0" fill="#1a1a1a" />
<text transform="translate(289.9 143.5) rotate(-90)" font-size="10" font-style="italic" fill="#fff" textLength="43" lengthAdjust="spacingAndGlyphs">UTP cable</text>
<path d="M197.5 147 C 203 157, 212 163, 222 161" fill="none" stroke="#1a1a1a" stroke-width="1.3" stroke-linecap="round" transform="translate(0 0)"/>
<path d="M197 147 C 200 158, 210 162, 213.5 168" fill="none" stroke="#1a1a1a" stroke-width="1.3" stroke-linecap="round" transform="translate(0 0)"/>
<rect x="-3.4" y="-3.4" width="6.8" height="6.8" fill="#fff" stroke="#1a1a1a" stroke-width="1" transform="translate(226 159) rotate(-22)"/>
<rect x="209.5" y="168.5" width="8" height="8" fill="#111"/>
<text x="220.6" y="172.7" font-size="6.4" fill="#222">Not connected</text>
<path d="M189.5 147 C 184 158, 178.5 165, 178.3 180 L 177.3 206" fill="none" stroke="#b0692a" stroke-width="1.1" stroke-linecap="round" transform="translate(0 0)"/>
<path d="M192.3 147 C 190 160, 188 168, 187.8 180 L 187.4 206" fill="none" stroke="#e8861a" stroke-width="1.1" stroke-linecap="round" transform="translate(0 0)"/>
<path d="M194.3 147 C 196 160, 197.6 168, 197.8 180 L 198 206" fill="none" stroke="#c8202a" stroke-width="1.1" stroke-linecap="round" transform="translate(0 0)"/>
<path d="M196.9 147 C 201 158, 207 168, 207.8 182 L 208.6 206" fill="none" stroke="#f2e21a" stroke-width="1.1" stroke-linecap="round" transform="translate(0 0)"/>
<path d="M197.5 147 C 203 157, 212 163, 222 161" fill="none" stroke="#1a1a1a" stroke-width="1.3" stroke-linecap="round" transform="translate(92.3 0)"/>
<path d="M197 147 C 200 158, 210 162, 213.5 168" fill="none" stroke="#1a1a1a" stroke-width="1.3" stroke-linecap="round" transform="translate(92.3 0)"/>
<rect x="-3.4" y="-3.4" width="6.8" height="6.8" fill="#fff" stroke="#1a1a1a" stroke-width="1" transform="translate(318.3 159) rotate(-22)"/>
<rect x="301.8" y="168.5" width="8" height="8" fill="#111"/>
<text x="312.9" y="172.7" font-size="6.4" fill="#222">Not connected</text>
<path d="M189.5 147 C 184 158, 178.5 165, 178.3 180 L 177.3 206" fill="none" stroke="#b0692a" stroke-width="1.1" stroke-linecap="round" transform="translate(92.3 0)"/>
<path d="M192.3 147 C 190 160, 188 168, 187.8 180 L 187.4 206" fill="none" stroke="#e8861a" stroke-width="1.1" stroke-linecap="round" transform="translate(92.3 0)"/>
<path d="M194.3 147 C 196 160, 197.6 168, 197.8 180 L 198 206" fill="none" stroke="#c8202a" stroke-width="1.1" stroke-linecap="round" transform="translate(92.3 0)"/>
<path d="M196.9 147 C 201 158, 207 168, 207.8 182 L 208.6 206" fill="none" stroke="#f2e21a" stroke-width="1.1" stroke-linecap="round" transform="translate(92.3 0)"/>
<rect x="173.3" y="205.4" width="8" height="9.4" fill="#b8742c" stroke="#3a2a1a" stroke-width="0.7"/>
<text x="177.3" y="213" font-size="6.5" fill="#6a3a10" text-anchor="middle">A/</text>
<rect x="183.2" y="205.4" width="8.3" height="9.4" fill="#f08a1c" stroke="#3a2a1a" stroke-width="0.7"/>
<text x="187.3" y="213" font-size="6.5" fill="#8a4a08" text-anchor="middle">A/</text>
<rect x="193.4" y="205.4" width="8.3" height="9.4" fill="#d4161c" stroke="#3a2a1a" stroke-width="0.7"/>
<text x="197.6" y="213" font-size="6.5" fill="#7a0a0e" text-anchor="middle">B</text>
<rect x="204.0" y="205.4" width="8.6" height="9.4" fill="#f4ea18" stroke="#3a2a1a" stroke-width="0.7"/>
<text x="208.3" y="213" font-size="6.5" fill="#5a5200" text-anchor="middle">B/</text>
<rect x="266.2" y="205.4" width="8" height="9.4" fill="#b8742c" stroke="#3a2a1a" stroke-width="0.7"/>
<text x="270.2" y="213" font-size="6.5" fill="#6a3a10" text-anchor="middle">A/</text>
<rect x="276.1" y="205.4" width="8.3" height="9.4" fill="#f08a1c" stroke="#3a2a1a" stroke-width="0.7"/>
<text x="280.2" y="213" font-size="6.5" fill="#8a4a08" text-anchor="middle">A/</text>
<rect x="286.3" y="205.4" width="8.3" height="9.4" fill="#d4161c" stroke="#3a2a1a" stroke-width="0.7"/>
<text x="290.4" y="213" font-size="6.5" fill="#7a0a0e" text-anchor="middle">B</text>
<rect x="296.9" y="205.4" width="8.6" height="9.4" fill="#f4ea18" stroke="#3a2a1a" stroke-width="0.7"/>
<text x="301.2" y="213" font-size="6.5" fill="#5a5200" text-anchor="middle">B/</text>
<rect x="189.0" y="221.8" width="130.6" height="94.6" fill="#441784" />
<rect x="195.0" y="226.5" width="56.0" height="82.5" fill="#2f1066" />
<rect x="255.0" y="226.5" width="59.6" height="82.5" fill="#2f1066" />
<rect x="195.4" y="228.0" width="8.5" height="80.0" fill="#250c54" />
<rect x="241.5" y="228.0" width="8.5" height="80.0" fill="#250c54" />
<rect x="255.5" y="228.0" width="8.5" height="80.0" fill="#250c54" />
<rect x="305.5" y="228.0" width="8.5" height="80.0" fill="#250c54" />
<rect x="218.1" y="228.5" width="25.0" height="28.5" fill="#34126e" rx="3"/>
<circle cx="230.6" cy="242.0" r="10.6" fill="#8a5ecb" />
<circle cx="230.2" cy="241.4" r="8.9" fill="#a27bdc" />
<rect x="226.1" y="237.5" width="8.5" height="1.4" fill="#8458c6" />
<rect x="226.1" y="240.7" width="8.5" height="1.4" fill="#8458c6" />
<rect x="226.1" y="243.9" width="8.5" height="1.4" fill="#8458c6" />
<path d="M223.47 249.84 A10.60 10.60 0 0 0 237.73 249.84 Z" fill="#2a0e5c"/>
<rect x="284.0" y="228.1" width="25.0" height="28.5" fill="#34126e" rx="3"/>
<circle cx="296.5" cy="241.6" r="10.6" fill="#8a5ecb" />
<circle cx="296.1" cy="241.0" r="8.9" fill="#a27bdc" />
<rect x="292.0" y="237.1" width="8.5" height="1.4" fill="#8458c6" />
<rect x="292.0" y="240.3" width="8.5" height="1.4" fill="#8458c6" />
<rect x="292.0" y="243.5" width="8.5" height="1.4" fill="#8458c6" />
<path d="M289.37 249.44 A10.60 10.60 0 0 0 303.63 249.44 Z" fill="#2a0e5c"/>
<text x="200.3" y="263" font-size="10.2" fill="#efe6ff" textLength="87" lengthAdjust="spacingAndGlyphs">MAX 0,67A/Winding</text>
<rect x="204.3" y="276" width="22.4" height="8.8" fill="#1c1c84" stroke="#f0f0ff" stroke-width="0.9"/>
<rect x="204.3" y="286.7" width="22.4" height="9.3" fill="#1c1c84" stroke="#f0f0ff" stroke-width="0.9"/>
<rect x="204.3" y="298" width="22.4" height="9.2" fill="#1c1c84" stroke="#f0f0ff" stroke-width="0.9"/>
<text x="215.5" y="282.6" font-size="5.8" fill="#fff" text-anchor="middle" font-style="italic">Jumper</text>
<path d="M216.8 286.2 L212.9 293 L218.3 296.2 L213.5 303.8 L220.8 305.4 L219.3 307.6" fill="none" stroke="#fff" stroke-width="3.4" stroke-linejoin="miter"/>
<path d="M216.8 286.2 L212.9 293 L218.3 296.2 L213.5 303.8 L220.8 305.4 L219.3 307.6" fill="none" stroke="#1a0a3e" stroke-width="1.8" stroke-linejoin="miter"/>
<rect x="270.2" y="276" width="22.4" height="8.8" fill="#1c1c84" stroke="#f0f0ff" stroke-width="0.9"/>
<rect x="270.2" y="286.7" width="22.4" height="9.3" fill="#1c1c84" stroke="#f0f0ff" stroke-width="0.9"/>
<rect x="270.2" y="298" width="22.4" height="9.2" fill="#1c1c84" stroke="#f0f0ff" stroke-width="0.9"/>
<text x="281.4" y="282.6" font-size="5.8" fill="#fff" text-anchor="middle" font-style="italic">Jumper</text>
<path d="M282.7 286.2 L278.8 293 L284.2 296.2 L279.4 303.8 L286.7 305.4 L285.2 307.6" fill="none" stroke="#fff" stroke-width="3.4" stroke-linejoin="miter"/>
<path d="M282.7 286.2 L278.8 293 L284.2 296.2 L279.4 303.8 L286.7 305.4 L285.2 307.6" fill="none" stroke="#1a0a3e" stroke-width="1.8" stroke-linejoin="miter"/>
<text transform="translate(236 285) rotate(90)" font-size="6" fill="#5a3a9a" class="m">JP6</text>
<text transform="translate(302 285) rotate(90)" font-size="6" fill="#5a3a9a" class="m">JP5</text>
<circle cx="200.2" cy="237" r="15.4" fill="#fff" stroke="#cc0c20" stroke-width="6.8"/>
<g transform="translate(199.29999999999998 237.7) rotate(26)"><path d="M-1.3 7.6 L-1.3 -2 L-4.4 -1.2 L0 -7.8 L4.4 -1.2 L1.3 -2 L1.3 7.6 Z" fill="#34107a"/></g>
<circle cx="268" cy="237" r="15.4" fill="#fff" stroke="#cc0c20" stroke-width="6.8"/>
<g transform="translate(267.1 237.7) rotate(26)"><path d="M-1.3 7.6 L-1.3 -2 L-4.4 -1.2 L0 -7.8 L4.4 -1.2 L1.3 -2 L1.3 7.6 Z" fill="#34107a"/></g>
<rect x="66.4" y="194.2" width="2.8" height="11.0" fill="#161616" rx="1.3"/>
<rect x="78.1" y="194.2" width="2.8" height="11.0" fill="#161616" rx="1.3"/>
<path d="M62.7 205.2 Q62.7 204.1 63.8 204.1 L83.5 204.1 Q84.6 204.1 84.6 205.2 L84.6 211 C84.6 219 82.4 223 78.4 228 L68.4 228 C64.8 223 62.7 219 62.7 211 Z" fill="#161616"/>
<rect x="69.2" y="227.6" width="9.0" height="2.8" fill="#161616" />
<rect x="69.0" y="231.5" width="9.4" height="1.5" fill="#161616" />
<rect x="69.0" y="233.8" width="9.4" height="2.0" fill="#161616" />
<rect x="71.2" y="228.0" width="4.7" height="62.0" fill="#161616" />
<rect x="37.2" y="289.3" width="73.2" height="155.8" fill="#141414" />
<text x="49" y="345.3" font-size="8.8" fill="#f2f2f2">24V</text>
<text x="49" y="356.5" font-size="8.8" fill="#f2f2f2">Power supply</text>
<path d="M-1.8 -5.2 C -2.2 -10, -4 -14, -7.3 -16.3 C -5 -17.6, -2.5 -17.8, -0.2 -17.4 C 3.6 -15.4, 5.4 -11, 4.6 -6.6 C 3 -5, 0 -4.6, -1.8 -5.2 Z" fill="#fff" transform="translate(73.4 402.8) rotate(0)"/>
<path d="M-1.8 -5.2 C -2.2 -10, -4 -14, -7.3 -16.3 C -5 -17.6, -2.5 -17.8, -0.2 -17.4 C 3.6 -15.4, 5.4 -11, 4.6 -6.6 C 3 -5, 0 -4.6, -1.8 -5.2 Z" fill="#fff" transform="translate(73.4 402.8) rotate(60)"/>
<path d="M-1.8 -5.2 C -2.2 -10, -4 -14, -7.3 -16.3 C -5 -17.6, -2.5 -17.8, -0.2 -17.4 C 3.6 -15.4, 5.4 -11, 4.6 -6.6 C 3 -5, 0 -4.6, -1.8 -5.2 Z" fill="#fff" transform="translate(73.4 402.8) rotate(120)"/>
<path d="M-1.8 -5.2 C -2.2 -10, -4 -14, -7.3 -16.3 C -5 -17.6, -2.5 -17.8, -0.2 -17.4 C 3.6 -15.4, 5.4 -11, 4.6 -6.6 C 3 -5, 0 -4.6, -1.8 -5.2 Z" fill="#fff" transform="translate(73.4 402.8) rotate(180)"/>
<path d="M-1.8 -5.2 C -2.2 -10, -4 -14, -7.3 -16.3 C -5 -17.6, -2.5 -17.8, -0.2 -17.4 C 3.6 -15.4, 5.4 -11, 4.6 -6.6 C 3 -5, 0 -4.6, -1.8 -5.2 Z" fill="#fff" transform="translate(73.4 402.8) rotate(240)"/>
<path d="M-1.8 -5.2 C -2.2 -10, -4 -14, -7.3 -16.3 C -5 -17.6, -2.5 -17.8, -0.2 -17.4 C 3.6 -15.4, 5.4 -11, 4.6 -6.6 C 3 -5, 0 -4.6, -1.8 -5.2 Z" fill="#fff" transform="translate(73.4 402.8) rotate(300)"/>
<circle cx="73.4" cy="402.8" r="5.4" fill="#fff" />
<circle cx="73.4" cy="402.8" r="4.9" fill="#141414" />
<circle cx="73.4" cy="402.8" r="2.8" fill="#fff" />
<path d="M64.9 445 L64.9 479.4 L158 479.4" fill="none" stroke="#151515" stroke-width="6"/>
<path d="M81.9 445 L81.9 460 L158 460" fill="none" stroke="#e30a17" stroke-width="6.4"/>
<rect x="156.6" y="455.0" width="10.4" height="10.3" fill="#cc1220" stroke="#8a0a10" stroke-width="0.8"/>
<rect x="160.8" y="459.0" width="2.4" height="2.4" fill="#7a0a10" />
<rect x="157.4" y="474.6" width="9.8" height="9.8" fill="#151515" stroke="#000" stroke-width="0.8"/>
<rect x="160.8" y="479.0" width="3.2" height="1.2" fill="#ddd" />
<path d="M411.8 658 L411.8 490 C411.8 467.6 428.9 449.5 450 449.5 L489 449.5" fill="none" stroke="#151516" stroke-width="12.4" stroke-linecap="butt" stroke-linejoin="round"/>
<path d="M474.3 658 L474.3 590 C474.3 560, 446 556, 443 520 C441.5 505, 450 500.5, 462 500.5 L486 500.5" fill="none" stroke="#151516" stroke-width="12.4" stroke-linecap="butt" stroke-linejoin="round"/>
<path d="M587.6 658 L587.6 602 C587.6 580, 576 568, 560 560 C540 551, 536 540, 532 525 C529 506, 520 500.5, 506 500.5 L478 500.5" fill="none" stroke="#151516" stroke-width="12.4" stroke-linecap="butt" stroke-linejoin="round"/>
<path d="M530.4 658 L530.4 596 C530.4 580, 520 574, 508 569 C492 562, 486 552, 484.5 537" fill="none" stroke="#151516" stroke-width="12.4" stroke-linecap="butt" stroke-linejoin="round"/>
<path d="M484.8 455.5 L479 471" stroke="#f2f2f2" stroke-width="1.6" fill="none"/>
<path d="M486.8 455.5 L485.5 471" stroke="#c9812e" stroke-width="1.8" fill="none"/>
<path d="M489 455.5 L493 471" stroke="#4a128a" stroke-width="1.8" fill="none"/>
<path d="M478 489.5 L482 495" stroke="#f2f2f2" stroke-width="1.4" fill="none"/>
<path d="M485 489.5 L484.5 495" stroke="#c9812e" stroke-width="1.6" fill="none"/>
<path d="M479 513.5 L483.5 507" stroke="#f2f2f2" stroke-width="1.4" fill="none"/>
<path d="M485 513.5 L485 507" stroke="#c9812e" stroke-width="1.6" fill="none"/>
<path d="M478.5 532 L482.5 538" stroke="#f2f2f2" stroke-width="1.4" fill="none"/>
<path d="M485 532 L484.5 538" stroke="#c9812e" stroke-width="1.6" fill="none"/>
<rect x="471.0" y="471.0" width="8.2" height="8.6" fill="#f4f4f4" stroke="#222" stroke-width="0.6"/>
<text x="475.1" y="478.4" font-size="8.2" fill="#111" text-anchor="middle">S</text>
<rect x="481.2" y="471.0" width="8.4" height="8.6" fill="#c9812e" stroke="#3a2208" stroke-width="0.6"/>
<rect x="483.5" y="474.8" width="3.6" height="1.0" fill="#8a5214" />
<rect x="491.2" y="471.0" width="8.4" height="8.6" fill="#4a128a" stroke="#1a0836" stroke-width="0.6"/>
<rect x="493.5" y="474.8" width="3.6" height="1.0" fill="#2a0a5a" />
<rect x="494.8" y="473.5" width="1.0" height="3.6" fill="#2a0a5a" />
<rect x="471.0" y="480.9" width="8.2" height="8.6" fill="#f4f4f4" stroke="#222" stroke-width="0.6"/>
<text x="475.1" y="488.3" font-size="8.2" fill="#111" text-anchor="middle">S</text>
<rect x="481.2" y="480.9" width="8.4" height="8.6" fill="#c9812e" stroke="#3a2208" stroke-width="0.6"/>
<rect x="483.5" y="484.7" width="3.6" height="1.0" fill="#8a5214" />
<rect x="491.2" y="480.9" width="8.4" height="8.6" fill="#4a128a" stroke="#1a0836" stroke-width="0.6"/>
<rect x="493.5" y="484.7" width="3.6" height="1.0" fill="#2a0a5a" />
<rect x="494.8" y="483.4" width="1.0" height="3.6" fill="#2a0a5a" />
<rect x="471.0" y="513.4" width="8.2" height="8.6" fill="#f4f4f4" stroke="#222" stroke-width="0.6"/>
<text x="475.1" y="520.8" font-size="8.2" fill="#111" text-anchor="middle">S</text>
<rect x="481.2" y="513.4" width="8.4" height="8.6" fill="#c9812e" stroke="#3a2208" stroke-width="0.6"/>
<rect x="483.5" y="517.2" width="3.6" height="1.0" fill="#8a5214" />
<rect x="491.2" y="513.4" width="8.4" height="8.6" fill="#4a128a" stroke="#1a0836" stroke-width="0.6"/>
<rect x="493.5" y="517.2" width="3.6" height="1.0" fill="#2a0a5a" />
<rect x="494.8" y="515.9" width="1.0" height="3.6" fill="#2a0a5a" />
<rect x="471.0" y="523.6" width="8.2" height="8.6" fill="#f4f4f4" stroke="#222" stroke-width="0.6"/>
<text x="475.1" y="531.0" font-size="8.2" fill="#111" text-anchor="middle">S</text>
<rect x="481.2" y="523.6" width="8.4" height="8.6" fill="#c9812e" stroke="#3a2208" stroke-width="0.6"/>
<rect x="483.5" y="527.4" width="3.6" height="1.0" fill="#8a5214" />
<rect x="491.2" y="523.6" width="8.4" height="8.6" fill="#4a128a" stroke="#1a0836" stroke-width="0.6"/>
<rect x="493.5" y="527.4" width="3.6" height="1.0" fill="#2a0a5a" />
<rect x="494.8" y="526.1" width="1.0" height="3.6" fill="#2a0a5a" />
<text x="460" y="478.3" class="m" font-size="6.3" fill="#e2e2e2">X-</text>
<text x="460" y="488.3" class="m" font-size="6.3" fill="#e2e2e2">X+</text>
<text x="459" y="521" class="m" font-size="6.3" fill="#e2e2e2">Z-</text>
<text x="459" y="531" class="m" font-size="6.3" fill="#e2e2e2">Z+</text>
<text x="472" y="468" font-size="7" fill="#ddd">S</text>
<text transform="translate(480 462.5) rotate(180)" font-size="5" fill="#ddd" class="m">ESD</text>
<text transform="translate(457 534) rotate(-90)" font-size="5" fill="#ccc" class="m">End</text>
<text transform="translate(415.5 654.4) rotate(-90)" font-size="9.5" font-style="italic" fill="#fff" textLength="55.6" lengthAdjust="spacingAndGlyphs">Phone cable</text>
<text transform="translate(477.9 654.4) rotate(-90)" font-size="9.5" font-style="italic" fill="#fff" textLength="55.6" lengthAdjust="spacingAndGlyphs">Phone cable</text>
<text transform="translate(533.9000000000001 654.4) rotate(-90)" font-size="9.5" font-style="italic" fill="#fff" textLength="55.6" lengthAdjust="spacingAndGlyphs">Phone cable</text>
<text transform="translate(591.1 654.4) rotate(-90)" font-size="9.5" font-style="italic" fill="#fff" textLength="55.6" lengthAdjust="spacingAndGlyphs">Phone cable</text>
<polygon points="241.3,614 252.3,614 252.3,672.8 196,703 191,703 199,686.6 241.3,664.4" fill="#373737"/>
<circle cx="246.8" cy="614.5" r="5.5" fill="#373737" />
<text transform="translate(250.4 666.5) rotate(-90)" font-size="9.6" font-style="italic" fill="#fff" textLength="45" lengthAdjust="spacingAndGlyphs">USB cable</text>
<polygon points="192,703 270,703 270,713.9 188.4,713.9" fill="#373737"/>
<text x="213.5" y="712" font-size="9.6" font-style="italic" fill="#fff" textLength="45" lengthAdjust="spacingAndGlyphs">VGA cable</text>
<circle cx="97.1" cy="629.9" r="22.6" fill="#161616" />
<path d="M56.3 730.3 L56.3 674 C56.3 660 65 652 77.5 652 C90 652 99.5 659 99.5 671 L99.5 684.6 L151.5 684.6 A9.5 9.5 0 0 1 151.5 703.6 L99.5 703.6 L99.5 730.3 Z" fill="#161616"/>
<path d="M73.8 681.9 L93.2 703.4 L110 703.4" fill="none" stroke="#fff" stroke-width="1.7" stroke-linejoin="round"/>
<path d="M122 705.5 L190 705.5 L190 713 L122 713 A3.75 3.75 0 0 1 122 705.5 Z" fill="#161616"/>
<line x1="204" y1="657.6" x2="188.6" y2="709" stroke="#161616" stroke-width="8" stroke-linecap="round"/>
<path d="M107.5 716.5 L198 716.5 L198 726.6 L107.5 726.6 A5.05 5.05 0 0 1 107.5 716.5 Z" fill="#161616"/>
<rect x="155.9" y="712.0" width="4.3" height="36.0" fill="#161616" />
<rect x="104.0" y="744.0" width="56.2" height="4.2" fill="#161616" />
<rect x="64.4" y="739.0" width="11.0" height="2.8" fill="#161616" rx="1.3"/>
<rect x="64.4" y="750.6" width="11.0" height="2.8" fill="#161616" rx="1.3"/>
<path d="M74.30000000000001 736.6 Q74.30000000000001 735.6 75.30000000000001 735.6 L83.9 735.6 C91.9 735.6 95.9 738.8000000000001 98.9 741.4000000000001 L98.9 751.0 C95.9 753.6 91.9 756.8000000000001 83.9 756.8000000000001 L75.30000000000001 756.8000000000001 Q74.30000000000001 756.8000000000001 74.30000000000001 755.8000000000001 Z" fill="#161616"/>
<rect x="99.7" y="741.6" width="1.5" height="9.2" fill="#161616" />
<rect x="101.9" y="741.6" width="1.5" height="9.2" fill="#161616" />
<rect x="104.0" y="741.6" width="1.6" height="9.2" fill="#161616" />
<rect x="173.7" y="734.6" width="11.0" height="2.8" fill="#161616" rx="1.3"/>
<rect x="173.7" y="746.2" width="11.0" height="2.8" fill="#161616" rx="1.3"/>
<path d="M183.6 732.1999999999999 Q183.6 731.1999999999999 184.6 731.1999999999999 L193.2 731.1999999999999 C201.2 731.1999999999999 205.2 734.4 208.2 737.0 L208.2 746.5999999999999 C205.2 749.1999999999999 201.2 752.4 193.2 752.4 L184.6 752.4 Q183.6 752.4 183.6 751.4 Z" fill="#161616"/>
<rect x="209.0" y="737.2" width="1.5" height="9.2" fill="#161616" />
<rect x="211.2" y="737.2" width="1.5" height="9.2" fill="#161616" />
<rect x="213.3" y="737.2" width="1.6" height="9.2" fill="#161616" />
<rect x="213.0" y="739.5" width="60.0" height="4.6" fill="#161616" />
<rect x="269.0" y="693.2" width="106.0" height="55.8" fill="#161616" rx="8"/>
<rect x="280.5" y="708.1" width="31.5" height="4.8" fill="#fff" rx="2.4"/>
<rect x="280.5" y="718.5" width="31.5" height="4.8" fill="#fff" rx="2.4"/>
<rect x="280.5" y="728.8" width="31.5" height="4.8" fill="#fff" rx="2.4"/>
<circle cx="342" cy="720.9" r="18.5" fill="none" stroke="#fff" stroke-width="5.6"/>
<path d="M278.3 749 L292.4 749 L292.4 752 A4.5 4.5 0 0 1 287.9 756.5 L282.8 756.5 A4.5 4.5 0 0 1 278.3 752 Z" fill="#161616"/>
<path d="M351.7 749 L365.8 749 L365.8 752 A4.5 4.5 0 0 1 361.3 756.5 L356.2 756.5 A4.5 4.5 0 0 1 351.7 752 Z" fill="#161616"/>
<rect x="344.8" y="631.8" width="13.6" height="62.0" fill="#222" />
<text transform="translate(355.3 690.5) rotate(-90)" font-size="9.8" font-style="italic" fill="#fff" textLength="55.5" lengthAdjust="spacingAndGlyphs">2 wire cable</text>
<rect x="347.0" y="626.0" width="3.2" height="6.5" fill="#161616" />
<rect x="352.5" y="626.0" width="3.2" height="6.5" fill="#161616" />
<path d="M337 612 L366.7 612 L366.7 622 Q366.7 627.3 361 627.3 L342.7 627.3 Q337 627.3 337 622 Z" fill="#121212"/>
<polygon points="337.7,602 366,602 373,612.8 331,612.8" fill="#151515"/>
<ellipse cx="351.8" cy="604.8" rx="13.6" ry="5.8" fill="#e8d0d0"/>
<path d="M338 603.5 C338 590 365.6 590 365.6 603.5 C365.6 610.5 338 610.5 338 603.5 Z" fill="#c80c16"/>
<ellipse cx="351.8" cy="599" rx="10" ry="4.4" fill="#d81822"/>
<rect x="387.2" y="658.8" width="51.0" height="112.0" fill="#136d28" />
<rect x="399.2" y="660.8" width="29.0" height="22.5" fill="#173a9a" />
<rect x="399.2" y="660.8" width="29.0" height="7.6" fill="#0f2c70" />
<rect x="399.2" y="677.2" width="29.0" height="3.0" fill="#2158d0" />
<rect x="397.8" y="668.2" width="7.8" height="8.4" fill="#4a128a" stroke="#260a50" stroke-width="0.6"/>
<rect x="399.7" y="672.0" width="4.0" height="1.0" fill="#2a0a5a" />
<rect x="401.2" y="670.5" width="1.0" height="4.0" fill="#2a0a5a" />
<rect x="407.6" y="668.2" width="8.6" height="8.4" fill="#f4f4f4" stroke="#222" stroke-width="0.6"/>
<text x="411.9" y="675.5999999999999" font-size="8.2" fill="#111" text-anchor="middle" font-style="italic">S</text>
<rect x="418.0" y="668.2" width="8.6" height="8.4" fill="#b87830" stroke="#3a2208" stroke-width="0.6"/>
<rect x="420.4" y="672.0" width="4.0" height="1.0" fill="#7a4a14" />
<path d="M409.3 656.5999999999999 L402.7 668.4" stroke="#4a128a" stroke-width="2.6" fill="none"/>
<path d="M415.9 656.5999999999999 L422.2 668.4" stroke="#a8682a" stroke-width="2.6" fill="none"/>
<path d="M412.3 656.5999999999999 L412.3 668.0" stroke="#f4f4f4" stroke-width="2.8" fill="none"/>
<rect x="415.2" y="694.0" width="20.5" height="73.5" fill="#141414" />
<circle cx="425.4" cy="701.2" r="5.0" fill="#fff" />
<circle cx="425.4" cy="760.8" r="5.0" fill="#fff" />
<rect x="416.8" y="713.0" width="17.0" height="12.8" fill="#3b3b3b" />
<rect x="416.8" y="739.0" width="17.0" height="12.8" fill="#3b3b3b" />
<line x1="396.2" y1="693.8" x2="396.2" y2="718.8" stroke="#2fae4a" stroke-width="0.9"/>
<rect x="394.2" y="699.8" width="4.0" height="14.0" fill="#e88a2a" rx="1.5"/>
<rect x="394.2" y="702.8" width="4.0" height="1.6" fill="#d8201a" />
<rect x="394.2" y="706.3" width="4.0" height="1.4" fill="#f0c020" />
<rect x="394.2" y="709.3" width="4.0" height="1.6" fill="#d8201a" />
<circle cx="402.2" cy="730.4" r="5.6" fill="#3f9a2c" filter="url(#b1)"/>
<circle cx="402.2" cy="730.2" r="3.6" fill="#66c43c" filter="url(#b1)"/>
<line x1="390.2" y1="754.3" x2="413.2" y2="754.3" stroke="#2fae4a" stroke-width="0.9"/>
<rect x="395.7" y="752.3" width="12.5" height="4.0" fill="#e88a2a" rx="1.5"/>
<rect x="398.0" y="752.3" width="1.6" height="4.0" fill="#d8201a" />
<rect x="401.2" y="752.3" width="1.4" height="4.0" fill="#f0c020" />
<rect x="404.2" y="752.3" width="1.6" height="4.0" fill="#d8201a" />
<line x1="390.2" y1="762.4" x2="413.2" y2="762.4" stroke="#2fae4a" stroke-width="0.9"/>
<rect x="395.7" y="760.4" width="12.5" height="4.0" fill="#e88a2a" rx="1.5"/>
<rect x="398.0" y="760.4" width="1.6" height="4.0" fill="#d8201a" />
<rect x="401.2" y="760.4" width="1.4" height="4.0" fill="#f0c020" />
<rect x="404.2" y="760.4" width="1.6" height="4.0" fill="#d8201a" />
<rect x="449.6" y="658.8" width="51.0" height="112.0" fill="#136d28" />
<rect x="461.6" y="660.8" width="29.0" height="22.5" fill="#173a9a" />
<rect x="461.6" y="660.8" width="29.0" height="7.6" fill="#0f2c70" />
<rect x="461.6" y="677.2" width="29.0" height="3.0" fill="#2158d0" />
<rect x="460.2" y="668.2" width="7.8" height="8.4" fill="#4a128a" stroke="#260a50" stroke-width="0.6"/>
<rect x="462.1" y="672.0" width="4.0" height="1.0" fill="#2a0a5a" />
<rect x="463.6" y="670.5" width="1.0" height="4.0" fill="#2a0a5a" />
<rect x="470.0" y="668.2" width="8.6" height="8.4" fill="#f4f4f4" stroke="#222" stroke-width="0.6"/>
<text x="474.3" y="675.5999999999999" font-size="8.2" fill="#111" text-anchor="middle" font-style="italic">S</text>
<rect x="480.4" y="668.2" width="8.6" height="8.4" fill="#b87830" stroke="#3a2208" stroke-width="0.6"/>
<rect x="482.8" y="672.0" width="4.0" height="1.0" fill="#7a4a14" />
<path d="M471.70000000000005 656.5999999999999 L465.1 668.4" stroke="#4a128a" stroke-width="2.6" fill="none"/>
<path d="M478.3 656.5999999999999 L484.6 668.4" stroke="#a8682a" stroke-width="2.6" fill="none"/>
<path d="M474.70000000000005 656.5999999999999 L474.70000000000005 668.0" stroke="#f4f4f4" stroke-width="2.8" fill="none"/>
<rect x="477.6" y="694.0" width="20.5" height="73.5" fill="#141414" />
<circle cx="487.8" cy="701.2" r="5.0" fill="#fff" />
<circle cx="487.8" cy="760.8" r="5.0" fill="#fff" />
<rect x="479.2" y="713.0" width="17.0" height="12.8" fill="#3b3b3b" />
<rect x="479.2" y="739.0" width="17.0" height="12.8" fill="#3b3b3b" />
<line x1="458.6" y1="693.8" x2="458.6" y2="718.8" stroke="#2fae4a" stroke-width="0.9"/>
<rect x="456.6" y="699.8" width="4.0" height="14.0" fill="#e88a2a" rx="1.5"/>
<rect x="456.6" y="702.8" width="4.0" height="1.6" fill="#d8201a" />
<rect x="456.6" y="706.3" width="4.0" height="1.4" fill="#f0c020" />
<rect x="456.6" y="709.3" width="4.0" height="1.6" fill="#d8201a" />
<circle cx="464.6" cy="730.4" r="5.6" fill="#3f9a2c" filter="url(#b1)"/>
<circle cx="464.6" cy="730.2" r="3.6" fill="#66c43c" filter="url(#b1)"/>
<line x1="452.6" y1="754.3" x2="475.6" y2="754.3" stroke="#2fae4a" stroke-width="0.9"/>
<rect x="458.1" y="752.3" width="12.5" height="4.0" fill="#e88a2a" rx="1.5"/>
<rect x="460.4" y="752.3" width="1.6" height="4.0" fill="#d8201a" />
<rect x="463.6" y="752.3" width="1.4" height="4.0" fill="#f0c020" />
<rect x="466.6" y="752.3" width="1.6" height="4.0" fill="#d8201a" />
<line x1="452.6" y1="762.4" x2="475.6" y2="762.4" stroke="#2fae4a" stroke-width="0.9"/>
<rect x="458.1" y="760.4" width="12.5" height="4.0" fill="#e88a2a" rx="1.5"/>
<rect x="460.4" y="760.4" width="1.6" height="4.0" fill="#d8201a" />
<rect x="463.6" y="760.4" width="1.4" height="4.0" fill="#f0c020" />
<rect x="466.6" y="760.4" width="1.6" height="4.0" fill="#d8201a" />
<rect x="505.4" y="658.8" width="51.0" height="112.0" fill="#136d28" />
<rect x="517.4" y="660.8" width="29.0" height="22.5" fill="#173a9a" />
<rect x="517.4" y="660.8" width="29.0" height="7.6" fill="#0f2c70" />
<rect x="517.4" y="677.2" width="29.0" height="3.0" fill="#2158d0" />
<rect x="516.0" y="668.2" width="7.8" height="8.4" fill="#4a128a" stroke="#260a50" stroke-width="0.6"/>
<rect x="517.9" y="672.0" width="4.0" height="1.0" fill="#2a0a5a" />
<rect x="519.4" y="670.5" width="1.0" height="4.0" fill="#2a0a5a" />
<rect x="525.8" y="668.2" width="8.6" height="8.4" fill="#f4f4f4" stroke="#222" stroke-width="0.6"/>
<text x="530.1" y="675.5999999999999" font-size="8.2" fill="#111" text-anchor="middle" font-style="italic">S</text>
<rect x="536.2" y="668.2" width="8.6" height="8.4" fill="#b87830" stroke="#3a2208" stroke-width="0.6"/>
<rect x="538.6" y="672.0" width="4.0" height="1.0" fill="#7a4a14" />
<path d="M527.4999999999999 656.5999999999999 L520.9 668.4" stroke="#4a128a" stroke-width="2.6" fill="none"/>
<path d="M534.0999999999999 656.5999999999999 L540.4 668.4" stroke="#a8682a" stroke-width="2.6" fill="none"/>
<path d="M530.4999999999999 656.5999999999999 L530.4999999999999 668.0" stroke="#f4f4f4" stroke-width="2.8" fill="none"/>
<rect x="533.4" y="694.0" width="20.5" height="73.5" fill="#141414" />
<circle cx="543.6" cy="701.2" r="5.0" fill="#fff" />
<circle cx="543.6" cy="760.8" r="5.0" fill="#fff" />
<rect x="535.0" y="713.0" width="17.0" height="12.8" fill="#3b3b3b" />
<rect x="535.0" y="739.0" width="17.0" height="12.8" fill="#3b3b3b" />
<line x1="514.4" y1="693.8" x2="514.4" y2="718.8" stroke="#2fae4a" stroke-width="0.9"/>
<rect x="512.4" y="699.8" width="4.0" height="14.0" fill="#e88a2a" rx="1.5"/>
<rect x="512.4" y="702.8" width="4.0" height="1.6" fill="#d8201a" />
<rect x="512.4" y="706.3" width="4.0" height="1.4" fill="#f0c020" />
<rect x="512.4" y="709.3" width="4.0" height="1.6" fill="#d8201a" />
<circle cx="520.4" cy="730.4" r="5.6" fill="#3f9a2c" filter="url(#b1)"/>
<circle cx="520.4" cy="730.2" r="3.6" fill="#66c43c" filter="url(#b1)"/>
<line x1="508.4" y1="754.3" x2="531.4" y2="754.3" stroke="#2fae4a" stroke-width="0.9"/>
<rect x="513.9" y="752.3" width="12.5" height="4.0" fill="#e88a2a" rx="1.5"/>
<rect x="516.2" y="752.3" width="1.6" height="4.0" fill="#d8201a" />
<rect x="519.4" y="752.3" width="1.4" height="4.0" fill="#f0c020" />
<rect x="522.4" y="752.3" width="1.6" height="4.0" fill="#d8201a" />
<line x1="508.4" y1="762.4" x2="531.4" y2="762.4" stroke="#2fae4a" stroke-width="0.9"/>
<rect x="513.9" y="760.4" width="12.5" height="4.0" fill="#e88a2a" rx="1.5"/>
<rect x="516.2" y="760.4" width="1.6" height="4.0" fill="#d8201a" />
<rect x="519.4" y="760.4" width="1.4" height="4.0" fill="#f0c020" />
<rect x="522.4" y="760.4" width="1.6" height="4.0" fill="#d8201a" />
<rect x="562.8" y="658.8" width="51.0" height="112.0" fill="#136d28" />
<rect x="574.8" y="660.8" width="29.0" height="22.5" fill="#173a9a" />
<rect x="574.8" y="660.8" width="29.0" height="7.6" fill="#0f2c70" />
<rect x="574.8" y="677.2" width="29.0" height="3.0" fill="#2158d0" />
<rect x="573.4" y="668.2" width="7.8" height="8.4" fill="#4a128a" stroke="#260a50" stroke-width="0.6"/>
<rect x="575.3" y="672.0" width="4.0" height="1.0" fill="#2a0a5a" />
<rect x="576.8" y="670.5" width="1.0" height="4.0" fill="#2a0a5a" />
<rect x="583.2" y="668.2" width="8.6" height="8.4" fill="#f4f4f4" stroke="#222" stroke-width="0.6"/>
<text x="587.5" y="675.5999999999999" font-size="8.2" fill="#111" text-anchor="middle" font-style="italic">S</text>
<rect x="593.6" y="668.2" width="8.6" height="8.4" fill="#b87830" stroke="#3a2208" stroke-width="0.6"/>
<rect x="596.0" y="672.0" width="4.0" height="1.0" fill="#7a4a14" />
<path d="M584.8999999999999 656.5999999999999 L578.3 668.4" stroke="#4a128a" stroke-width="2.6" fill="none"/>
<path d="M591.4999999999999 656.5999999999999 L597.8 668.4" stroke="#a8682a" stroke-width="2.6" fill="none"/>
<path d="M587.8999999999999 656.5999999999999 L587.8999999999999 668.0" stroke="#f4f4f4" stroke-width="2.8" fill="none"/>
<rect x="590.8" y="694.0" width="20.5" height="73.5" fill="#141414" />
<circle cx="601.0" cy="701.2" r="5.0" fill="#fff" />
<circle cx="601.0" cy="760.8" r="5.0" fill="#fff" />
<rect x="592.4" y="713.0" width="17.0" height="12.8" fill="#3b3b3b" />
<rect x="592.4" y="739.0" width="17.0" height="12.8" fill="#3b3b3b" />
<line x1="571.8" y1="693.8" x2="571.8" y2="718.8" stroke="#2fae4a" stroke-width="0.9"/>
<rect x="569.8" y="699.8" width="4.0" height="14.0" fill="#e88a2a" rx="1.5"/>
<rect x="569.8" y="702.8" width="4.0" height="1.6" fill="#d8201a" />
<rect x="569.8" y="706.3" width="4.0" height="1.4" fill="#f0c020" />
<rect x="569.8" y="709.3" width="4.0" height="1.6" fill="#d8201a" />
<circle cx="577.8" cy="730.4" r="5.6" fill="#3f9a2c" filter="url(#b1)"/>
<circle cx="577.8" cy="730.2" r="3.6" fill="#66c43c" filter="url(#b1)"/>
<line x1="565.8" y1="754.3" x2="588.8" y2="754.3" stroke="#2fae4a" stroke-width="0.9"/>
<rect x="571.3" y="752.3" width="12.5" height="4.0" fill="#e88a2a" rx="1.5"/>
<rect x="573.6" y="752.3" width="1.6" height="4.0" fill="#d8201a" />
<rect x="576.8" y="752.3" width="1.4" height="4.0" fill="#f0c020" />
<rect x="579.8" y="752.3" width="1.6" height="4.0" fill="#d8201a" />
<line x1="565.8" y1="762.4" x2="588.8" y2="762.4" stroke="#2fae4a" stroke-width="0.9"/>
<rect x="571.3" y="760.4" width="12.5" height="4.0" fill="#e88a2a" rx="1.5"/>
<rect x="573.6" y="760.4" width="1.6" height="4.0" fill="#d8201a" />
<rect x="576.8" y="760.4" width="1.4" height="4.0" fill="#f0c020" />
<rect x="579.8" y="760.4" width="1.6" height="4.0" fill="#d8201a" />
<text x="465.3" y="758.3" class="sf" font-size="18" fill="#f59c08" stroke="#f59c08" stroke-width="0.55" textLength="99.2" lengthAdjust="spacing">LASERFAIR</text>
<text x="570" y="758.2" font-size="18" font-weight="bold" fill="#333" stroke="#fff" stroke-width="3.4" stroke-linejoin="round" paint-order="stroke" textLength="52" lengthAdjust="spacingAndGlyphs">.COM</text>
</svg></body></html>
